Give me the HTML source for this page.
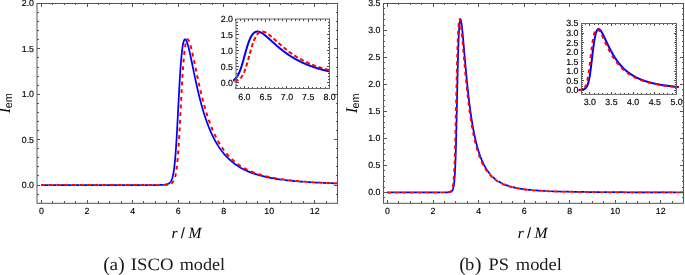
<!DOCTYPE html>
<html><head><meta charset="utf-8"><title>Emission profiles</title>
<style>html,body{margin:0;padding:0;background:#fff}svg{display:block}text{text-rendering:geometricPrecision}</style></head>
<body>
<svg width="685" height="275" viewBox="0 0 685 275">
<rect width="685" height="275" fill="#fff"/>
<clipPath id="c1"><rect x="37.0" y="3.5" width="300.5" height="199.8"/></clipPath>
<g clip-path="url(#c1)" fill="none" stroke-width="1.75" stroke-linejoin="round">
<path d="M41.04,185.05 L42.91,185.05 L44.77,185.05 L46.64,185.05 L48.50,185.05 L50.37,185.05 L52.23,185.05 L54.10,185.05 L55.96,185.05 L57.83,185.05 L59.69,185.05 L61.55,185.05 L63.42,185.05 L65.28,185.05 L67.15,185.05 L69.01,185.05 L70.88,185.05 L72.74,185.05 L74.61,185.05 L76.47,185.05 L78.34,185.05 L80.20,185.05 L82.06,185.05 L83.93,185.05 L85.79,185.05 L87.66,185.05 L89.52,185.05 L91.39,185.05 L93.25,185.05 L95.12,185.05 L96.98,185.05 L98.85,185.05 L100.71,185.05 L102.58,185.05 L104.44,185.05 L106.30,185.05 L108.17,185.05 L110.03,185.05 L111.90,185.05 L113.76,185.05 L115.63,185.05 L117.49,185.05 L119.36,185.05 L121.22,185.05 L123.09,185.05 L124.95,185.05 L126.81,185.05 L128.68,185.05 L130.54,185.05 L132.41,185.05 L134.27,185.05 L136.14,185.05 L138.00,185.05 L139.87,185.05 L141.73,185.05 L143.60,185.05 L145.46,185.05 L147.32,185.04 L149.19,185.04 L151.05,185.04 L152.92,185.03 L154.78,185.03 L156.65,185.01 L158.51,184.99 L160.38,184.96 L162.24,184.89 L163.09,184.84 L163.30,184.83 L163.51,184.81 L163.72,184.80 L163.93,184.78 L164.11,184.77 L164.14,184.76 L164.35,184.74 L164.56,184.72 L164.77,184.70 L164.98,184.67 L165.19,184.64 L165.40,184.61 L165.61,184.58 L165.82,184.55 L165.97,184.52 L166.03,184.51 L166.24,184.47 L166.45,184.42 L166.65,184.37 L166.86,184.32 L167.07,184.26 L167.28,184.19 L167.49,184.12 L167.70,184.05 L167.83,183.99 L167.91,183.96 L168.12,183.87 L168.33,183.77 L168.54,183.66 L168.75,183.53 L168.96,183.40 L169.17,183.25 L169.38,183.09 L169.59,182.91 L169.70,182.81 L169.80,182.71 L170.01,182.50 L170.22,182.26 L170.43,181.99 L170.64,181.70 L170.85,181.37 L171.06,181.01 L171.27,180.62 L171.48,180.18 L171.56,179.98 L171.69,179.69 L171.89,179.16 L172.10,178.56 L172.31,177.90 L172.52,177.18 L172.73,176.37 L172.94,175.49 L173.15,174.51 L173.36,173.43 L173.43,173.06 L173.57,172.24 L173.78,170.94 L173.99,169.51 L174.20,167.94 L174.41,166.24 L174.62,164.38 L174.83,162.36 L175.04,160.18 L175.25,157.83 L175.29,157.30 L175.46,155.30 L175.67,152.60 L175.88,149.72 L176.09,146.67 L176.30,143.45 L176.51,140.08 L176.72,136.55 L176.93,132.89 L177.13,129.11 L177.16,128.69 L177.34,125.23 L177.55,121.26 L177.76,117.23 L177.97,113.16 L178.18,109.07 L178.39,104.98 L178.60,100.92 L178.81,96.90 L179.02,92.95 L179.02,92.94 L179.23,89.09 L179.44,85.32 L179.65,81.67 L179.86,78.15 L180.07,74.77 L180.28,71.54 L180.49,68.46 L180.70,65.54 L180.89,63.06 L180.91,62.79 L181.12,60.21 L181.33,57.79 L181.54,55.54 L181.75,53.46 L181.96,51.54 L182.17,49.79 L182.37,48.19 L182.58,46.74 L182.75,45.69 L182.79,45.44 L183.00,44.28 L183.21,43.26 L183.42,42.37 L183.63,41.61 L183.84,40.97 L184.05,40.44 L184.26,40.02 L184.47,39.71 L184.62,39.55 L184.68,39.49 L184.89,39.36 L185.10,39.33 L185.31,39.38 L185.52,39.50 L185.73,39.70 L185.94,39.96 L186.15,40.29 L186.36,40.68 L186.48,40.94 L186.57,41.13 L186.78,41.63 L186.99,42.17 L187.20,42.77 L187.41,43.40 L187.61,44.07 L187.82,44.79 L188.03,45.53 L188.24,46.30 L188.35,46.69 L188.45,47.11 L188.66,47.93 L188.87,48.79 L189.08,49.66 L189.29,50.56 L189.50,51.47 L189.71,52.40 L189.92,53.34 L190.13,54.29 L190.21,54.66 L190.34,55.26 L190.55,56.24 L190.76,57.23 L190.97,58.22 L191.18,59.22 L191.39,60.23 L191.60,61.24 L191.81,62.25 L192.02,63.27 L192.07,63.55 L192.23,64.28 L192.44,65.30 L192.65,66.32 L192.85,67.34 L193.06,68.36 L193.27,69.38 L193.48,70.40 L193.69,71.41 L193.90,72.42 L193.94,72.59 L194.11,73.42 L194.32,74.43 L194.53,75.42 L194.74,76.42 L194.95,77.41 L195.16,78.39 L195.37,79.37 L195.58,80.34 L195.79,81.31 L195.80,81.37 L196.00,82.27 L196.21,83.22 L196.42,84.17 L196.63,85.11 L196.84,86.04 L197.05,86.97 L197.26,87.89 L197.47,88.80 L197.67,89.67 L197.68,89.70 L197.89,90.60 L198.09,91.49 L198.30,92.37 L198.51,93.25 L198.72,94.11 L198.93,94.97 L199.14,95.83 L199.35,96.67 L199.53,97.39 L199.56,97.51 L199.77,98.34 L199.98,99.16 L200.19,99.97 L200.40,100.77 L200.61,101.57 L200.82,102.36 L201.03,103.14 L201.24,103.92 L201.40,104.50 L201.45,104.69 L201.66,105.45 L201.87,106.20 L202.08,106.94 L202.29,107.68 L202.50,108.41 L202.71,109.13 L202.92,109.84 L203.13,110.55 L203.26,111.01 L203.33,111.25 L203.54,111.94 L203.75,112.63 L203.96,113.31 L204.17,113.98 L204.38,114.64 L204.59,115.30 L204.80,115.95 L205.01,116.59 L205.13,116.94 L205.22,117.23 L205.43,117.86 L205.64,118.48 L205.85,119.10 L206.06,119.71 L206.27,120.31 L206.48,120.91 L206.69,121.50 L206.90,122.08 L206.99,122.34 L207.11,122.66 L207.32,123.23 L207.53,123.80 L207.74,124.36 L207.95,124.91 L208.16,125.46 L208.37,126.00 L208.57,126.54 L208.78,127.07 L208.86,127.25 L208.99,127.60 L209.20,128.12 L209.41,128.63 L209.62,129.14 L209.83,129.64 L210.04,130.14 L210.25,130.63 L210.46,131.12 L210.67,131.60 L210.72,131.71 L210.88,132.08 L211.09,132.55 L211.30,133.01 L211.51,133.48 L211.72,133.93 L211.93,134.38 L212.14,134.83 L212.35,135.27 L212.56,135.71 L212.58,135.77 L212.77,136.14 L212.98,136.57 L213.19,137.00 L214.45,139.46 L216.31,142.82 L218.18,145.88 L220.04,148.67 L221.91,151.22 L223.77,153.56 L225.64,155.70 L227.50,157.66 L229.37,159.46 L231.23,161.11 L233.09,162.64 L234.96,164.04 L236.82,165.34 L238.69,166.54 L240.55,167.65 L242.42,168.68 L244.28,169.63 L246.15,170.52 L248.01,171.34 L249.88,172.11 L251.74,172.82 L253.60,173.48 L255.47,174.10 L257.33,174.68 L259.20,175.23 L261.06,175.73 L262.93,176.21 L264.79,176.65 L266.66,177.07 L268.52,177.46 L270.39,177.83 L272.25,178.18 L274.11,178.51 L275.98,178.81 L277.84,179.10 L279.71,179.38 L281.57,179.63 L283.44,179.88 L285.30,180.11 L287.17,180.33 L289.03,180.53 L290.90,180.73 L292.76,180.91 L294.63,181.09 L296.49,181.25 L298.35,181.41 L300.22,181.56 L302.08,181.70 L303.95,181.84 L305.81,181.97 L307.68,182.09 L309.54,182.20 L311.41,182.32 L313.27,182.42 L315.14,182.52 L317.00,182.62 L318.86,182.71 L320.73,182.80 L322.59,182.88 L324.46,182.96 L326.32,183.03 L328.19,183.11 L330.05,183.18 L331.92,183.24 L333.78,183.31 L335.65,183.37 L337.51,183.43" stroke="#0000ff"/>
<clipPath id="c1e"><rect x="37.0" y="3.5" width="127.46" height="199.8"/><rect x="280.59" y="3.5" width="56.91" height="199.8"/></clipPath>
<path d="M41.04,185.05 L42.91,185.05 L44.77,185.05 L46.64,185.05 L48.50,185.05 L50.37,185.05 L52.23,185.05 L54.10,185.05 L55.96,185.05 L57.83,185.05 L59.69,185.05 L61.55,185.05 L63.42,185.05 L65.28,185.05 L67.15,185.05 L69.01,185.05 L70.88,185.05 L72.74,185.05 L74.61,185.05 L76.47,185.05 L78.34,185.05 L80.20,185.05 L82.06,185.05 L83.93,185.05 L85.79,185.05 L87.66,185.05 L89.52,185.05 L91.39,185.05 L93.25,185.05 L95.12,185.05 L96.98,185.05 L98.85,185.05 L100.71,185.05 L102.58,185.05 L104.44,185.05 L106.30,185.05 L108.17,185.05 L110.03,185.05 L111.90,185.05 L113.76,185.05 L115.63,185.05 L117.49,185.05 L119.36,185.05 L121.22,185.05 L123.09,185.05 L124.95,185.05 L126.81,185.05 L128.68,185.05 L130.54,185.05 L132.41,185.05 L134.27,185.05 L136.14,185.05 L138.00,185.05 L139.87,185.05 L141.73,185.05 L143.60,185.05 L145.46,185.05 L147.32,185.05 L149.19,185.05 L151.05,185.04 L152.92,185.04 L154.78,185.04 L156.65,185.03 L158.51,185.02 L160.38,185.00 L162.24,184.97 L163.09,184.95 L163.30,184.94 L163.51,184.94 L163.72,184.93 L163.93,184.92 L164.11,184.92 L164.14,184.92 L164.35,184.91 L164.56,184.90 L164.77,184.89 L164.98,184.88 L165.19,184.87 L165.40,184.86 L165.61,184.84 L165.82,184.83 L165.97,184.82 L166.03,184.81 L166.24,184.80 L166.45,184.78 L166.65,184.76 L166.86,184.74 L167.07,184.72 L167.28,184.70 L167.49,184.67 L167.70,184.64 L167.83,184.62 L167.91,184.61 L168.12,184.58 L168.33,184.54 L168.54,184.51 L168.75,184.46 L168.96,184.42 L169.17,184.37 L169.38,184.31 L169.59,184.25 L169.70,184.22 L169.80,184.19 L170.01,184.12 L170.22,184.04 L170.43,183.96 L170.64,183.86 L170.85,183.76 L171.06,183.65 L171.27,183.53 L171.48,183.39 L171.56,183.33 L171.69,183.25 L171.89,183.08 L172.10,182.90 L172.31,182.70 L172.52,182.49 L172.73,182.24 L172.94,181.98 L173.15,181.68 L173.36,181.36 L173.43,181.25 L173.57,181.00 L173.78,180.60 L173.99,180.16 L174.20,179.67 L174.41,179.13 L174.62,178.53 L174.83,177.87 L175.04,177.14 L175.25,176.33 L175.29,176.15 L175.46,175.44 L175.67,174.46 L175.88,173.37 L176.09,172.18 L176.30,170.87 L176.51,169.43 L176.72,167.86 L176.93,166.15 L177.13,164.28 L177.16,164.07 L177.34,162.26 L177.55,160.07 L177.76,157.70 L177.97,155.17 L178.18,152.46 L178.39,149.57 L178.60,146.51 L178.81,143.29 L179.02,139.90 L179.02,139.89 L179.23,136.37 L179.44,132.71 L179.65,128.92 L179.86,125.03 L180.07,121.06 L180.28,117.03 L180.49,112.95 L180.70,108.86 L180.89,105.18 L180.91,104.78 L181.12,100.72 L181.33,96.71 L181.54,92.76 L181.75,88.90 L181.96,85.14 L182.17,81.49 L182.37,77.98 L182.58,74.61 L182.75,72.02 L182.79,71.38 L183.00,68.31 L183.21,65.40 L183.42,62.66 L183.63,60.08 L183.84,57.68 L184.05,55.44 L184.26,53.36 L184.47,51.45 L184.62,50.22 L184.68,49.70 L184.89,48.11 L185.10,46.67 L185.31,45.38 L185.52,44.22 L185.73,43.21 L185.94,42.33 L186.15,41.57 L186.36,40.94 L186.48,40.62 L186.57,40.41 L186.78,40.00 L186.99,39.69 L187.20,39.48 L187.41,39.36 L187.61,39.33 L187.82,39.38 L188.03,39.51 L188.24,39.71 L188.35,39.83 L188.45,39.98 L188.66,40.31 L188.87,40.70 L189.08,41.15 L189.29,41.65 L189.50,42.20 L189.71,42.79 L189.92,43.43 L190.13,44.10 L190.21,44.36 L190.34,44.80 L190.55,45.54 L190.76,46.31 L190.97,47.11 L191.18,47.93 L191.39,48.78 L191.60,49.65 L191.81,50.53 L192.02,51.44 L192.07,51.69 L192.23,52.36 L192.44,53.30 L192.65,54.25 L192.85,55.21 L193.06,56.18 L193.27,57.16 L193.48,58.14 L193.69,59.14 L193.90,60.13 L193.94,60.31 L194.11,61.14 L194.32,62.14 L194.53,63.15 L194.74,64.17 L194.95,65.18 L195.16,66.19 L195.37,67.20 L195.58,68.22 L195.79,69.23 L195.80,69.30 L196.00,70.24 L196.21,71.24 L196.42,72.25 L196.63,73.25 L196.84,74.24 L197.05,75.23 L197.26,76.22 L197.47,77.21 L197.67,78.15 L197.68,78.18 L197.89,79.16 L198.09,80.12 L198.30,81.08 L198.51,82.04 L198.72,82.99 L198.93,83.93 L199.14,84.87 L199.35,85.79 L199.53,86.59 L199.56,86.72 L199.77,87.63 L199.98,88.54 L200.19,89.44 L200.40,90.33 L200.61,91.22 L200.82,92.10 L201.03,92.97 L201.24,93.84 L201.40,94.48 L201.45,94.69 L201.66,95.54 L201.87,96.38 L202.08,97.22 L202.29,98.04 L202.50,98.86 L202.71,99.67 L202.92,100.47 L203.13,101.27 L203.26,101.78 L203.33,102.06 L203.54,102.84 L203.75,103.61 L203.96,104.37 L204.17,105.13 L204.38,105.88 L204.59,106.62 L204.80,107.36 L205.01,108.08 L205.13,108.48 L205.22,108.80 L205.43,109.52 L205.64,110.22 L205.85,110.92 L206.06,111.61 L206.27,112.30 L206.48,112.97 L206.69,113.64 L206.90,114.31 L206.99,114.60 L207.11,114.96 L207.32,115.61 L207.53,116.26 L207.74,116.89 L207.95,117.52 L208.16,118.14 L208.37,118.76 L208.57,119.37 L208.78,119.97 L208.86,120.18 L208.99,120.57 L209.20,121.16 L209.41,121.74 L209.62,122.32 L209.83,122.89 L210.04,123.46 L210.25,124.02 L210.46,124.57 L210.67,125.12 L210.72,125.25 L210.88,125.66 L211.09,126.20 L211.30,126.73 L211.51,127.26 L211.72,127.78 L211.93,128.29 L212.14,128.80 L212.35,129.30 L212.56,129.80 L212.58,129.86 L212.77,130.29 L212.98,130.78 L213.19,131.26 L214.45,134.06 L216.31,137.88 L218.18,141.36 L220.04,144.53 L221.91,147.42 L223.77,150.06 L225.64,152.50 L227.50,154.72 L229.37,156.77 L231.23,158.64 L233.09,160.36 L234.96,161.94 L236.82,163.40 L238.69,164.75 L240.55,165.99 L242.42,167.14 L244.28,168.21 L246.15,169.20 L248.01,170.11 L249.88,170.96 L251.74,171.76 L253.60,172.49 L255.47,173.18 L257.33,173.82 L259.20,174.42 L261.06,174.98 L262.93,175.50 L264.79,175.99 L266.66,176.45 L268.52,176.88 L270.39,177.28 L272.25,177.66 L274.11,178.02 L275.98,178.36 L277.84,178.67 L279.71,178.97 L281.57,179.25 L283.44,179.52 L285.30,179.77 L287.17,180.00 L289.03,180.23 L290.90,180.44 L292.76,180.64 L294.63,180.83 L296.49,181.01 L298.35,181.18 L300.22,181.34 L302.08,181.49 L303.95,181.64 L305.81,181.78 L307.68,181.91 L309.54,182.03 L311.41,182.15 L313.27,182.26 L315.14,182.37 L317.00,182.48 L318.86,182.57 L320.73,182.67 L322.59,182.76 L324.46,182.84 L326.32,182.92 L328.19,183.00 L330.05,183.07 L331.92,183.15 L333.78,183.21 L335.65,183.28 L337.51,183.34" clip-path="url(#c1e)" stroke="#fff" stroke-width="2.55" stroke-dasharray="3.86,3.81" stroke-dashoffset="0"/>
<path d="M41.04,185.05 L42.91,185.05 L44.77,185.05 L46.64,185.05 L48.50,185.05 L50.37,185.05 L52.23,185.05 L54.10,185.05 L55.96,185.05 L57.83,185.05 L59.69,185.05 L61.55,185.05 L63.42,185.05 L65.28,185.05 L67.15,185.05 L69.01,185.05 L70.88,185.05 L72.74,185.05 L74.61,185.05 L76.47,185.05 L78.34,185.05 L80.20,185.05 L82.06,185.05 L83.93,185.05 L85.79,185.05 L87.66,185.05 L89.52,185.05 L91.39,185.05 L93.25,185.05 L95.12,185.05 L96.98,185.05 L98.85,185.05 L100.71,185.05 L102.58,185.05 L104.44,185.05 L106.30,185.05 L108.17,185.05 L110.03,185.05 L111.90,185.05 L113.76,185.05 L115.63,185.05 L117.49,185.05 L119.36,185.05 L121.22,185.05 L123.09,185.05 L124.95,185.05 L126.81,185.05 L128.68,185.05 L130.54,185.05 L132.41,185.05 L134.27,185.05 L136.14,185.05 L138.00,185.05 L139.87,185.05 L141.73,185.05 L143.60,185.05 L145.46,185.05 L147.32,185.05 L149.19,185.05 L151.05,185.04 L152.92,185.04 L154.78,185.04 L156.65,185.03 L158.51,185.02 L160.38,185.00 L162.24,184.97 L163.09,184.95 L163.30,184.94 L163.51,184.94 L163.72,184.93 L163.93,184.92 L164.11,184.92 L164.14,184.92 L164.35,184.91 L164.56,184.90 L164.77,184.89 L164.98,184.88 L165.19,184.87 L165.40,184.86 L165.61,184.84 L165.82,184.83 L165.97,184.82 L166.03,184.81 L166.24,184.80 L166.45,184.78 L166.65,184.76 L166.86,184.74 L167.07,184.72 L167.28,184.70 L167.49,184.67 L167.70,184.64 L167.83,184.62 L167.91,184.61 L168.12,184.58 L168.33,184.54 L168.54,184.51 L168.75,184.46 L168.96,184.42 L169.17,184.37 L169.38,184.31 L169.59,184.25 L169.70,184.22 L169.80,184.19 L170.01,184.12 L170.22,184.04 L170.43,183.96 L170.64,183.86 L170.85,183.76 L171.06,183.65 L171.27,183.53 L171.48,183.39 L171.56,183.33 L171.69,183.25 L171.89,183.08 L172.10,182.90 L172.31,182.70 L172.52,182.49 L172.73,182.24 L172.94,181.98 L173.15,181.68 L173.36,181.36 L173.43,181.25 L173.57,181.00 L173.78,180.60 L173.99,180.16 L174.20,179.67 L174.41,179.13 L174.62,178.53 L174.83,177.87 L175.04,177.14 L175.25,176.33 L175.29,176.15 L175.46,175.44 L175.67,174.46 L175.88,173.37 L176.09,172.18 L176.30,170.87 L176.51,169.43 L176.72,167.86 L176.93,166.15 L177.13,164.28 L177.16,164.07 L177.34,162.26 L177.55,160.07 L177.76,157.70 L177.97,155.17 L178.18,152.46 L178.39,149.57 L178.60,146.51 L178.81,143.29 L179.02,139.90 L179.02,139.89 L179.23,136.37 L179.44,132.71 L179.65,128.92 L179.86,125.03 L180.07,121.06 L180.28,117.03 L180.49,112.95 L180.70,108.86 L180.89,105.18 L180.91,104.78 L181.12,100.72 L181.33,96.71 L181.54,92.76 L181.75,88.90 L181.96,85.14 L182.17,81.49 L182.37,77.98 L182.58,74.61 L182.75,72.02 L182.79,71.38 L183.00,68.31 L183.21,65.40 L183.42,62.66 L183.63,60.08 L183.84,57.68 L184.05,55.44 L184.26,53.36 L184.47,51.45 L184.62,50.22 L184.68,49.70 L184.89,48.11 L185.10,46.67 L185.31,45.38 L185.52,44.22 L185.73,43.21 L185.94,42.33 L186.15,41.57 L186.36,40.94 L186.48,40.62 L186.57,40.41 L186.78,40.00 L186.99,39.69 L187.20,39.48 L187.41,39.36 L187.61,39.33 L187.82,39.38 L188.03,39.51 L188.24,39.71 L188.35,39.83 L188.45,39.98 L188.66,40.31 L188.87,40.70 L189.08,41.15 L189.29,41.65 L189.50,42.20 L189.71,42.79 L189.92,43.43 L190.13,44.10 L190.21,44.36 L190.34,44.80 L190.55,45.54 L190.76,46.31 L190.97,47.11 L191.18,47.93 L191.39,48.78 L191.60,49.65 L191.81,50.53 L192.02,51.44 L192.07,51.69 L192.23,52.36 L192.44,53.30 L192.65,54.25 L192.85,55.21 L193.06,56.18 L193.27,57.16 L193.48,58.14 L193.69,59.14 L193.90,60.13 L193.94,60.31 L194.11,61.14 L194.32,62.14 L194.53,63.15 L194.74,64.17 L194.95,65.18 L195.16,66.19 L195.37,67.20 L195.58,68.22 L195.79,69.23 L195.80,69.30 L196.00,70.24 L196.21,71.24 L196.42,72.25 L196.63,73.25 L196.84,74.24 L197.05,75.23 L197.26,76.22 L197.47,77.21 L197.67,78.15 L197.68,78.18 L197.89,79.16 L198.09,80.12 L198.30,81.08 L198.51,82.04 L198.72,82.99 L198.93,83.93 L199.14,84.87 L199.35,85.79 L199.53,86.59 L199.56,86.72 L199.77,87.63 L199.98,88.54 L200.19,89.44 L200.40,90.33 L200.61,91.22 L200.82,92.10 L201.03,92.97 L201.24,93.84 L201.40,94.48 L201.45,94.69 L201.66,95.54 L201.87,96.38 L202.08,97.22 L202.29,98.04 L202.50,98.86 L202.71,99.67 L202.92,100.47 L203.13,101.27 L203.26,101.78 L203.33,102.06 L203.54,102.84 L203.75,103.61 L203.96,104.37 L204.17,105.13 L204.38,105.88 L204.59,106.62 L204.80,107.36 L205.01,108.08 L205.13,108.48 L205.22,108.80 L205.43,109.52 L205.64,110.22 L205.85,110.92 L206.06,111.61 L206.27,112.30 L206.48,112.97 L206.69,113.64 L206.90,114.31 L206.99,114.60 L207.11,114.96 L207.32,115.61 L207.53,116.26 L207.74,116.89 L207.95,117.52 L208.16,118.14 L208.37,118.76 L208.57,119.37 L208.78,119.97 L208.86,120.18 L208.99,120.57 L209.20,121.16 L209.41,121.74 L209.62,122.32 L209.83,122.89 L210.04,123.46 L210.25,124.02 L210.46,124.57 L210.67,125.12 L210.72,125.25 L210.88,125.66 L211.09,126.20 L211.30,126.73 L211.51,127.26 L211.72,127.78 L211.93,128.29 L212.14,128.80 L212.35,129.30 L212.56,129.80 L212.58,129.86 L212.77,130.29 L212.98,130.78 L213.19,131.26 L214.45,134.06 L216.31,137.88 L218.18,141.36 L220.04,144.53 L221.91,147.42 L223.77,150.06 L225.64,152.50 L227.50,154.72 L229.37,156.77 L231.23,158.64 L233.09,160.36 L234.96,161.94 L236.82,163.40 L238.69,164.75 L240.55,165.99 L242.42,167.14 L244.28,168.21 L246.15,169.20 L248.01,170.11 L249.88,170.96 L251.74,171.76 L253.60,172.49 L255.47,173.18 L257.33,173.82 L259.20,174.42 L261.06,174.98 L262.93,175.50 L264.79,175.99 L266.66,176.45 L268.52,176.88 L270.39,177.28 L272.25,177.66 L274.11,178.02 L275.98,178.36 L277.84,178.67 L279.71,178.97 L281.57,179.25 L283.44,179.52 L285.30,179.77 L287.17,180.00 L289.03,180.23 L290.90,180.44 L292.76,180.64 L294.63,180.83 L296.49,181.01 L298.35,181.18 L300.22,181.34 L302.08,181.49 L303.95,181.64 L305.81,181.78 L307.68,181.91 L309.54,182.03 L311.41,182.15 L313.27,182.26 L315.14,182.37 L317.00,182.48 L318.86,182.57 L320.73,182.67 L322.59,182.76 L324.46,182.84 L326.32,182.92 L328.19,183.00 L330.05,183.07 L331.92,183.15 L333.78,183.21 L335.65,183.28 L337.51,183.34" stroke="#ff0000" stroke-width="1.95" stroke-dasharray="3.86,3.81" stroke-dashoffset="0"/>
</g>
<path d="M41.50,203.3v-3.4M41.50,3.5v3.4M52.88,203.3v-1.9M52.88,3.5v1.9M64.27,203.3v-1.9M64.27,3.5v1.9M75.66,203.3v-1.9M75.66,3.5v1.9M87.04,203.3v-3.4M87.04,3.5v3.4M98.42,203.3v-1.9M98.42,3.5v1.9M109.81,203.3v-1.9M109.81,3.5v1.9M121.19,203.3v-1.9M121.19,3.5v1.9M132.58,203.3v-3.4M132.58,3.5v3.4M143.97,203.3v-1.9M143.97,3.5v1.9M155.35,203.3v-1.9M155.35,3.5v1.9M166.74,203.3v-1.9M166.74,3.5v1.9M178.12,203.3v-3.4M178.12,3.5v3.4M189.50,203.3v-1.9M189.50,3.5v1.9M200.89,203.3v-1.9M200.89,3.5v1.9M212.28,203.3v-1.9M212.28,3.5v1.9M223.66,203.3v-3.4M223.66,3.5v3.4M235.04,203.3v-1.9M235.04,3.5v1.9M246.43,203.3v-1.9M246.43,3.5v1.9M257.81,203.3v-1.9M257.81,3.5v1.9M269.20,203.3v-3.4M269.20,3.5v3.4M280.59,203.3v-1.9M280.59,3.5v1.9M291.97,203.3v-1.9M291.97,3.5v1.9M303.36,203.3v-1.9M303.36,3.5v1.9M314.74,203.3v-3.4M314.74,3.5v3.4M326.12,203.3v-1.9M326.12,3.5v1.9M337.51,203.3v-1.9M337.51,3.5v1.9M37.0,194.13h1.9M337.5,194.13h-1.9M37.0,185.05h3.4M337.5,185.05h-3.4M37.0,175.97h1.9M337.5,175.97h-1.9M37.0,166.89h1.9M337.5,166.89h-1.9M37.0,157.81h1.9M337.5,157.81h-1.9M37.0,148.73h1.9M337.5,148.73h-1.9M37.0,139.65h3.4M337.5,139.65h-3.4M37.0,130.57h1.9M337.5,130.57h-1.9M37.0,121.49h1.9M337.5,121.49h-1.9M37.0,112.41h1.9M337.5,112.41h-1.9M37.0,103.33h1.9M337.5,103.33h-1.9M37.0,94.25h3.4M337.5,94.25h-3.4M37.0,85.17h1.9M337.5,85.17h-1.9M37.0,76.09h1.9M337.5,76.09h-1.9M37.0,67.01h1.9M337.5,67.01h-1.9M37.0,57.93h1.9M337.5,57.93h-1.9M37.0,48.85h3.4M337.5,48.85h-3.4M37.0,39.77h1.9M337.5,39.77h-1.9M37.0,30.69h1.9M337.5,30.69h-1.9M37.0,21.61h1.9M337.5,21.61h-1.9M37.0,12.53h1.9M337.5,12.53h-1.9" stroke="#555" stroke-width="1" fill="none" shape-rendering="crispEdges"/>
<rect x="37.0" y="3.5" width="300.5" height="199.8" fill="none" stroke="#555" stroke-width="1"/>
<g font-family="Liberation Sans, Arial, sans-serif" font-size="8.8" fill="#000" stroke="#000" stroke-width="0.15">
<text x="41.50" y="213.5" text-anchor="middle">0</text>
<text x="87.04" y="213.5" text-anchor="middle">2</text>
<text x="132.58" y="213.5" text-anchor="middle">4</text>
<text x="178.12" y="213.5" text-anchor="middle">6</text>
<text x="223.66" y="213.5" text-anchor="middle">8</text>
<text x="269.20" y="213.5" text-anchor="middle">10</text>
<text x="314.74" y="213.5" text-anchor="middle">12</text>
<text x="34.0" y="187.90" text-anchor="end">0.0</text>
<text x="34.0" y="142.50" text-anchor="end">0.5</text>
<text x="34.0" y="97.10" text-anchor="end">1.0</text>
<text x="34.0" y="51.70" text-anchor="end">1.5</text>
<text x="34.0" y="6.30" text-anchor="end">2.0</text>
</g>
<clipPath id="c2"><rect x="383.5" y="3.5" width="300.0" height="199.8"/></clipPath>
<g clip-path="url(#c2)" fill="none" stroke-width="1.75" stroke-linejoin="round">
<path d="M387.04,192.40 L388.91,192.40 L390.77,192.40 L392.64,192.40 L394.50,192.40 L396.37,192.40 L398.23,192.40 L400.10,192.40 L401.96,192.40 L403.83,192.40 L405.69,192.40 L407.55,192.40 L409.42,192.40 L411.28,192.40 L413.15,192.40 L415.01,192.40 L416.88,192.40 L418.74,192.40 L420.61,192.40 L422.47,192.40 L424.34,192.40 L426.20,192.40 L428.06,192.40 L429.93,192.40 L431.79,192.40 L433.66,192.40 L435.52,192.40 L437.39,192.40 L439.25,192.40 L441.12,192.39 L442.60,192.39 L442.81,192.39 L442.98,192.39 L443.02,192.39 L443.23,192.39 L443.44,192.39 L443.65,192.39 L443.86,192.38 L444.07,192.38 L444.28,192.38 L444.49,192.38 L444.70,192.38 L444.85,192.38 L444.91,192.38 L445.12,192.37 L445.33,192.37 L445.54,192.37 L445.75,192.36 L445.96,192.36 L446.17,192.36 L446.38,192.35 L446.59,192.35 L446.71,192.34 L446.80,192.34 L447.00,192.34 L447.21,192.33 L447.42,192.32 L447.63,192.31 L447.84,192.30 L448.05,192.29 L448.26,192.28 L448.47,192.26 L448.58,192.25 L448.68,192.24 L448.89,192.22 L449.10,192.20 L449.31,192.17 L449.52,192.14 L449.73,192.10 L449.94,192.06 L450.15,192.01 L450.36,191.96 L450.44,191.93 L450.57,191.89 L450.78,191.81 L450.99,191.71 L451.20,191.60 L451.41,191.47 L451.62,191.31 L451.83,191.13 L452.04,190.90 L452.24,190.63 L452.30,190.54 L452.45,190.30 L452.66,189.90 L452.87,189.41 L453.08,188.82 L453.29,188.10 L453.50,187.22 L453.71,186.14 L453.92,184.82 L454.13,183.20 L454.17,182.88 L454.34,181.23 L454.55,178.83 L454.76,175.92 L454.97,172.42 L455.18,168.24 L455.39,163.32 L455.60,157.60 L455.81,151.04 L456.02,143.66 L456.03,143.08 L456.23,135.52 L456.44,126.73 L456.65,117.43 L456.86,107.82 L457.07,98.10 L457.28,88.48 L457.48,79.15 L457.69,70.29 L457.90,62.25 L457.90,62.02 L458.11,54.45 L458.32,47.64 L458.53,41.63 L458.74,36.41 L458.95,31.97 L459.16,28.28 L459.37,25.29 L459.58,22.97 L459.76,21.44 L459.79,21.25 L460.00,20.07 L460.21,19.40 L460.42,19.17 L460.63,19.34 L460.84,19.86 L461.05,20.69 L461.26,21.79 L461.47,23.13 L461.63,24.28 L461.68,24.66 L461.89,26.38 L462.10,28.24 L462.31,30.23 L462.52,32.32 L462.72,34.50 L462.93,36.75 L463.14,39.06 L463.35,41.41 L463.49,42.98 L463.56,43.79 L463.77,46.20 L463.98,48.62 L464.19,51.04 L464.40,53.47 L464.61,55.88 L464.82,58.29 L465.03,60.68 L465.24,63.05 L465.36,64.35 L465.45,65.39 L465.66,67.71 L465.87,70.01 L466.08,72.27 L466.29,74.50 L466.50,76.70 L466.71,78.86 L466.92,80.99 L467.13,83.08 L467.22,84.01 L467.34,85.14 L467.55,87.16 L467.76,89.14 L467.96,91.08 L468.17,92.99 L468.38,94.87 L468.59,96.70 L468.80,98.50 L469.01,100.26 L469.09,100.87 L469.22,101.99 L469.43,103.68 L469.64,105.34 L469.85,106.97 L470.06,108.56 L470.27,110.11 L470.48,111.64 L470.69,113.13 L470.90,114.59 L470.95,114.94 L471.11,116.02 L471.32,117.42 L471.53,118.79 L471.74,120.13 L471.95,121.45 L472.16,122.73 L472.37,123.99 L472.58,125.22 L472.79,126.42 L472.81,126.59 L473.00,127.60 L473.20,128.76 L473.41,129.89 L473.62,130.99 L473.83,132.07 L474.04,133.13 L474.25,134.17 L474.46,135.18 L474.67,136.18 L474.68,136.21 L474.88,137.15 L475.09,138.10 L475.30,139.04 L475.51,139.95 L475.72,140.84 L475.93,141.72 L476.14,142.58 L476.35,143.42 L476.54,144.18 L476.56,144.24 L476.77,145.05 L476.98,145.83 L477.19,146.61 L477.40,147.37 L477.61,148.11 L477.82,148.83 L478.03,149.55 L478.24,150.24 L478.41,150.81 L478.44,150.93 L478.65,151.60 L478.86,152.26 L479.07,152.90 L479.28,153.53 L479.49,154.15 L479.70,154.76 L479.91,155.35 L480.12,155.94 L480.27,156.35 L480.33,156.51 L480.54,157.07 L480.75,157.62 L480.96,158.16 L481.17,158.69 L481.38,159.21 L481.59,159.72 L481.80,160.22 L482.01,160.71 L482.14,161.00 L482.22,161.19 L482.43,161.66 L482.64,162.12 L482.85,162.57 L483.06,163.02 L483.27,163.46 L483.48,163.89 L483.68,164.31 L483.89,164.72 L484.00,164.93 L484.10,165.13 L484.31,165.53 L484.52,165.92 L484.73,166.30 L484.94,166.68 L485.15,167.05 L485.36,167.42 L485.57,167.78 L485.78,168.13 L485.87,168.27 L485.99,168.47 L486.20,168.81 L486.41,169.14 L486.62,169.47 L486.83,169.79 L487.04,170.11 L487.25,170.42 L487.46,170.72 L487.67,171.02 L487.73,171.11 L487.88,171.32 L488.09,171.61 L488.30,171.89 L488.51,172.17 L488.72,172.45 L488.92,172.72 L489.13,172.98 L489.34,173.25 L489.55,173.50 L489.60,173.55 L489.76,173.76 L489.97,174.00 L490.18,174.25 L490.39,174.49 L490.60,174.73 L490.81,174.96 L491.02,175.19 L491.23,175.41 L491.44,175.63 L491.46,175.66 L491.65,175.85 L491.86,176.07 L492.07,176.28 L492.28,176.49 L492.49,176.69 L492.70,176.89 L493.32,177.47 L495.19,179.05 L497.05,180.43 L498.92,181.63 L500.78,182.69 L502.65,183.62 L504.51,184.44 L506.38,185.17 L508.24,185.82 L510.11,186.40 L511.97,186.92 L513.83,187.38 L515.70,187.80 L517.56,188.17 L519.43,188.51 L521.29,188.81 L523.16,189.09 L525.02,189.34 L526.89,189.57 L528.75,189.77 L530.62,189.96 L532.48,190.14 L534.35,190.29 L536.21,190.44 L538.07,190.57 L539.94,190.69 L541.80,190.80 L543.67,190.91 L545.53,191.00 L547.40,191.09 L549.26,191.17 L551.13,191.25 L552.99,191.32 L554.86,191.38 L556.72,191.44 L558.58,191.50 L560.45,191.55 L562.31,191.60 L564.18,191.64 L566.04,191.69 L567.91,191.72 L569.77,191.76 L571.64,191.80 L573.50,191.83 L575.37,191.86 L577.23,191.89 L579.09,191.91 L580.96,191.94 L582.82,191.96 L584.69,191.98 L586.55,192.00 L588.42,192.02 L590.28,192.04 L592.15,192.06 L594.01,192.07 L595.88,192.09 L597.74,192.10 L599.60,192.12 L601.47,192.13 L603.33,192.14 L605.20,192.15 L607.06,192.17 L608.93,192.18 L610.79,192.19 L612.66,192.19 L614.52,192.20 L616.39,192.21 L618.25,192.22 L620.11,192.23 L621.98,192.23 L623.84,192.24 L625.71,192.25 L627.57,192.25 L629.44,192.26 L631.30,192.27 L633.17,192.27 L635.03,192.28 L636.90,192.28 L638.76,192.29 L640.63,192.29 L642.49,192.29 L644.35,192.30 L646.22,192.30 L648.08,192.31 L649.95,192.31 L651.81,192.31 L653.68,192.32 L655.54,192.32 L657.41,192.32 L659.27,192.32 L661.14,192.33 L663.00,192.33 L664.86,192.33 L666.73,192.33 L668.59,192.34 L670.46,192.34 L672.32,192.34 L674.19,192.34 L676.05,192.34 L677.92,192.35 L679.78,192.35 L681.65,192.35 L683.51,192.35" stroke="#0000ff"/>
<clipPath id="c2e"><rect x="383.5" y="3.5" width="63.20" height="199.8"/><rect x="487.69" y="3.5" width="195.81" height="199.8"/></clipPath>
<path d="M387.04,192.40 L388.91,192.40 L390.77,192.40 L392.64,192.40 L394.50,192.40 L396.37,192.40 L398.23,192.40 L400.10,192.40 L401.96,192.40 L403.83,192.40 L405.69,192.40 L407.55,192.40 L409.42,192.40 L411.28,192.40 L413.15,192.40 L415.01,192.40 L416.88,192.40 L418.74,192.40 L420.61,192.40 L422.47,192.40 L424.34,192.40 L426.20,192.40 L428.06,192.40 L429.93,192.40 L431.79,192.40 L433.66,192.40 L435.52,192.40 L437.39,192.40 L439.25,192.40 L441.12,192.39 L442.60,192.39 L442.81,192.39 L442.98,192.38 L443.02,192.38 L443.23,192.38 L443.44,192.38 L443.65,192.38 L443.86,192.38 L444.07,192.38 L444.28,192.37 L444.49,192.37 L444.70,192.37 L444.85,192.37 L444.91,192.37 L445.12,192.36 L445.33,192.36 L445.54,192.35 L445.75,192.35 L445.96,192.34 L446.17,192.34 L446.38,192.33 L446.59,192.32 L446.71,192.32 L446.80,192.31 L447.00,192.30 L447.21,192.29 L447.42,192.28 L447.63,192.26 L447.84,192.25 L448.05,192.23 L448.26,192.20 L448.47,192.18 L448.58,192.16 L448.68,192.15 L448.89,192.11 L449.10,192.07 L449.31,192.02 L449.52,191.97 L449.73,191.90 L449.94,191.83 L450.15,191.73 L450.36,191.63 L450.44,191.58 L450.57,191.50 L450.78,191.35 L450.99,191.17 L451.20,190.95 L451.41,190.68 L451.62,190.37 L451.83,189.98 L452.04,189.52 L452.24,188.95 L452.30,188.77 L452.45,188.26 L452.66,187.41 L452.87,186.37 L453.08,185.10 L453.29,183.55 L453.50,181.65 L453.71,179.34 L453.92,176.54 L454.13,173.16 L454.17,172.49 L454.34,169.12 L454.55,164.36 L454.76,158.79 L454.97,152.40 L455.18,145.18 L455.39,137.19 L455.60,128.51 L455.81,119.30 L456.02,109.74 L456.03,109.01 L456.23,100.02 L456.44,90.36 L456.65,80.96 L456.86,72.00 L457.07,63.60 L457.28,55.89 L457.48,48.93 L457.69,42.75 L457.90,37.52 L457.90,37.38 L458.11,32.79 L458.32,28.95 L458.53,25.83 L458.74,23.38 L458.95,21.54 L459.16,20.26 L459.37,19.50 L459.58,19.18 L459.76,19.24 L459.79,19.28 L460.00,19.73 L460.21,20.50 L460.42,21.55 L460.63,22.84 L460.84,24.35 L461.05,26.03 L461.26,27.86 L461.47,29.83 L461.63,31.40 L461.68,31.90 L461.89,34.07 L462.10,36.30 L462.31,38.60 L462.52,40.94 L462.72,43.32 L462.93,45.72 L463.14,48.14 L463.35,50.56 L463.49,52.16 L463.56,52.99 L463.77,55.41 L463.98,57.81 L464.19,60.21 L464.40,62.58 L464.61,64.93 L464.82,67.26 L465.03,69.56 L465.24,71.82 L465.36,73.07 L465.45,74.06 L465.66,76.26 L465.87,78.43 L466.08,80.57 L466.29,82.67 L466.50,84.73 L466.71,86.76 L466.92,88.75 L467.13,90.70 L467.22,91.57 L467.34,92.62 L467.55,94.50 L467.76,96.34 L467.96,98.15 L468.17,99.92 L468.38,101.65 L468.59,103.35 L468.80,105.02 L469.01,106.65 L469.09,107.20 L469.22,108.25 L469.43,109.81 L469.64,111.34 L469.85,112.84 L470.06,114.31 L470.27,115.74 L470.48,117.15 L470.69,118.52 L470.90,119.87 L470.95,120.19 L471.11,121.19 L471.32,122.48 L471.53,123.74 L471.74,124.98 L471.95,126.19 L472.16,127.37 L472.37,128.53 L472.58,129.66 L472.79,130.77 L472.81,130.93 L473.00,131.86 L473.20,132.93 L473.41,133.97 L473.62,134.99 L473.83,135.98 L474.04,136.96 L474.25,137.92 L474.46,138.85 L474.67,139.77 L474.68,139.80 L474.88,140.67 L475.09,141.55 L475.30,142.41 L475.51,143.25 L475.72,144.08 L475.93,144.89 L476.14,145.68 L476.35,146.46 L476.54,147.16 L476.56,147.22 L476.77,147.96 L476.98,148.69 L477.19,149.41 L477.40,150.11 L477.61,150.79 L477.82,151.47 L478.03,152.13 L478.24,152.77 L478.41,153.30 L478.44,153.41 L478.65,154.03 L478.86,154.64 L479.07,155.24 L479.28,155.82 L479.49,156.40 L479.70,156.96 L479.91,157.51 L480.12,158.05 L480.27,158.44 L480.33,158.58 L480.54,159.10 L480.75,159.62 L480.96,160.12 L481.17,160.61 L481.38,161.09 L481.59,161.57 L481.80,162.03 L482.01,162.49 L482.14,162.76 L482.22,162.93 L482.43,163.37 L482.64,163.80 L482.85,164.23 L483.06,164.64 L483.27,165.05 L483.48,165.45 L483.68,165.84 L483.89,166.23 L484.00,166.42 L484.10,166.61 L484.31,166.98 L484.52,167.35 L484.73,167.71 L484.94,168.06 L485.15,168.40 L485.36,168.74 L485.57,169.08 L485.78,169.41 L485.87,169.54 L485.99,169.73 L486.20,170.05 L486.41,170.36 L486.62,170.66 L486.83,170.97 L487.04,171.26 L487.25,171.55 L487.46,171.84 L487.67,172.12 L487.73,172.20 L487.88,172.39 L488.09,172.67 L488.30,172.93 L488.51,173.19 L488.72,173.45 L488.92,173.71 L489.13,173.96 L489.34,174.20 L489.55,174.44 L489.60,174.49 L489.76,174.68 L489.97,174.91 L490.18,175.14 L490.39,175.37 L490.60,175.59 L490.81,175.81 L491.02,176.02 L491.23,176.24 L491.44,176.44 L491.46,176.46 L491.65,176.65 L491.86,176.85 L492.07,177.05 L492.28,177.24 L492.49,177.44 L492.70,177.63 L493.32,178.17 L495.19,179.66 L497.05,180.96 L498.92,182.10 L500.78,183.10 L502.65,183.98 L504.51,184.77 L506.38,185.46 L508.24,186.08 L510.11,186.63 L511.97,187.12 L513.83,187.56 L515.70,187.96 L517.56,188.32 L519.43,188.64 L521.29,188.93 L523.16,189.20 L525.02,189.44 L526.89,189.66 L528.75,189.86 L530.62,190.04 L532.48,190.20 L534.35,190.36 L536.21,190.50 L538.07,190.62 L539.94,190.74 L541.80,190.85 L543.67,190.95 L545.53,191.04 L547.40,191.13 L549.26,191.21 L551.13,191.28 L552.99,191.35 L554.86,191.41 L556.72,191.47 L558.58,191.52 L560.45,191.57 L562.31,191.62 L564.18,191.66 L566.04,191.70 L567.91,191.74 L569.77,191.78 L571.64,191.81 L573.50,191.84 L575.37,191.87 L577.23,191.90 L579.09,191.92 L580.96,191.95 L582.82,191.97 L584.69,191.99 L586.55,192.01 L588.42,192.03 L590.28,192.05 L592.15,192.06 L594.01,192.08 L595.88,192.10 L597.74,192.11 L599.60,192.12 L601.47,192.14 L603.33,192.15 L605.20,192.16 L607.06,192.17 L608.93,192.18 L610.79,192.19 L612.66,192.20 L614.52,192.21 L616.39,192.22 L618.25,192.22 L620.11,192.23 L621.98,192.24 L623.84,192.24 L625.71,192.25 L627.57,192.26 L629.44,192.26 L631.30,192.27 L633.17,192.27 L635.03,192.28 L636.90,192.28 L638.76,192.29 L640.63,192.29 L642.49,192.30 L644.35,192.30 L646.22,192.30 L648.08,192.31 L649.95,192.31 L651.81,192.31 L653.68,192.32 L655.54,192.32 L657.41,192.32 L659.27,192.33 L661.14,192.33 L663.00,192.33 L664.86,192.33 L666.73,192.34 L668.59,192.34 L670.46,192.34 L672.32,192.34 L674.19,192.34 L676.05,192.35 L677.92,192.35 L679.78,192.35 L681.65,192.35 L683.51,192.35" clip-path="url(#c2e)" stroke="#fff" stroke-width="2.55" stroke-dasharray="3.84,3.79" stroke-dashoffset="0"/>
<path d="M387.04,192.40 L388.91,192.40 L390.77,192.40 L392.64,192.40 L394.50,192.40 L396.37,192.40 L398.23,192.40 L400.10,192.40 L401.96,192.40 L403.83,192.40 L405.69,192.40 L407.55,192.40 L409.42,192.40 L411.28,192.40 L413.15,192.40 L415.01,192.40 L416.88,192.40 L418.74,192.40 L420.61,192.40 L422.47,192.40 L424.34,192.40 L426.20,192.40 L428.06,192.40 L429.93,192.40 L431.79,192.40 L433.66,192.40 L435.52,192.40 L437.39,192.40 L439.25,192.40 L441.12,192.39 L442.60,192.39 L442.81,192.39 L442.98,192.38 L443.02,192.38 L443.23,192.38 L443.44,192.38 L443.65,192.38 L443.86,192.38 L444.07,192.38 L444.28,192.37 L444.49,192.37 L444.70,192.37 L444.85,192.37 L444.91,192.37 L445.12,192.36 L445.33,192.36 L445.54,192.35 L445.75,192.35 L445.96,192.34 L446.17,192.34 L446.38,192.33 L446.59,192.32 L446.71,192.32 L446.80,192.31 L447.00,192.30 L447.21,192.29 L447.42,192.28 L447.63,192.26 L447.84,192.25 L448.05,192.23 L448.26,192.20 L448.47,192.18 L448.58,192.16 L448.68,192.15 L448.89,192.11 L449.10,192.07 L449.31,192.02 L449.52,191.97 L449.73,191.90 L449.94,191.83 L450.15,191.73 L450.36,191.63 L450.44,191.58 L450.57,191.50 L450.78,191.35 L450.99,191.17 L451.20,190.95 L451.41,190.68 L451.62,190.37 L451.83,189.98 L452.04,189.52 L452.24,188.95 L452.30,188.77 L452.45,188.26 L452.66,187.41 L452.87,186.37 L453.08,185.10 L453.29,183.55 L453.50,181.65 L453.71,179.34 L453.92,176.54 L454.13,173.16 L454.17,172.49 L454.34,169.12 L454.55,164.36 L454.76,158.79 L454.97,152.40 L455.18,145.18 L455.39,137.19 L455.60,128.51 L455.81,119.30 L456.02,109.74 L456.03,109.01 L456.23,100.02 L456.44,90.36 L456.65,80.96 L456.86,72.00 L457.07,63.60 L457.28,55.89 L457.48,48.93 L457.69,42.75 L457.90,37.52 L457.90,37.38 L458.11,32.79 L458.32,28.95 L458.53,25.83 L458.74,23.38 L458.95,21.54 L459.16,20.26 L459.37,19.50 L459.58,19.18 L459.76,19.24 L459.79,19.28 L460.00,19.73 L460.21,20.50 L460.42,21.55 L460.63,22.84 L460.84,24.35 L461.05,26.03 L461.26,27.86 L461.47,29.83 L461.63,31.40 L461.68,31.90 L461.89,34.07 L462.10,36.30 L462.31,38.60 L462.52,40.94 L462.72,43.32 L462.93,45.72 L463.14,48.14 L463.35,50.56 L463.49,52.16 L463.56,52.99 L463.77,55.41 L463.98,57.81 L464.19,60.21 L464.40,62.58 L464.61,64.93 L464.82,67.26 L465.03,69.56 L465.24,71.82 L465.36,73.07 L465.45,74.06 L465.66,76.26 L465.87,78.43 L466.08,80.57 L466.29,82.67 L466.50,84.73 L466.71,86.76 L466.92,88.75 L467.13,90.70 L467.22,91.57 L467.34,92.62 L467.55,94.50 L467.76,96.34 L467.96,98.15 L468.17,99.92 L468.38,101.65 L468.59,103.35 L468.80,105.02 L469.01,106.65 L469.09,107.20 L469.22,108.25 L469.43,109.81 L469.64,111.34 L469.85,112.84 L470.06,114.31 L470.27,115.74 L470.48,117.15 L470.69,118.52 L470.90,119.87 L470.95,120.19 L471.11,121.19 L471.32,122.48 L471.53,123.74 L471.74,124.98 L471.95,126.19 L472.16,127.37 L472.37,128.53 L472.58,129.66 L472.79,130.77 L472.81,130.93 L473.00,131.86 L473.20,132.93 L473.41,133.97 L473.62,134.99 L473.83,135.98 L474.04,136.96 L474.25,137.92 L474.46,138.85 L474.67,139.77 L474.68,139.80 L474.88,140.67 L475.09,141.55 L475.30,142.41 L475.51,143.25 L475.72,144.08 L475.93,144.89 L476.14,145.68 L476.35,146.46 L476.54,147.16 L476.56,147.22 L476.77,147.96 L476.98,148.69 L477.19,149.41 L477.40,150.11 L477.61,150.79 L477.82,151.47 L478.03,152.13 L478.24,152.77 L478.41,153.30 L478.44,153.41 L478.65,154.03 L478.86,154.64 L479.07,155.24 L479.28,155.82 L479.49,156.40 L479.70,156.96 L479.91,157.51 L480.12,158.05 L480.27,158.44 L480.33,158.58 L480.54,159.10 L480.75,159.62 L480.96,160.12 L481.17,160.61 L481.38,161.09 L481.59,161.57 L481.80,162.03 L482.01,162.49 L482.14,162.76 L482.22,162.93 L482.43,163.37 L482.64,163.80 L482.85,164.23 L483.06,164.64 L483.27,165.05 L483.48,165.45 L483.68,165.84 L483.89,166.23 L484.00,166.42 L484.10,166.61 L484.31,166.98 L484.52,167.35 L484.73,167.71 L484.94,168.06 L485.15,168.40 L485.36,168.74 L485.57,169.08 L485.78,169.41 L485.87,169.54 L485.99,169.73 L486.20,170.05 L486.41,170.36 L486.62,170.66 L486.83,170.97 L487.04,171.26 L487.25,171.55 L487.46,171.84 L487.67,172.12 L487.73,172.20 L487.88,172.39 L488.09,172.67 L488.30,172.93 L488.51,173.19 L488.72,173.45 L488.92,173.71 L489.13,173.96 L489.34,174.20 L489.55,174.44 L489.60,174.49 L489.76,174.68 L489.97,174.91 L490.18,175.14 L490.39,175.37 L490.60,175.59 L490.81,175.81 L491.02,176.02 L491.23,176.24 L491.44,176.44 L491.46,176.46 L491.65,176.65 L491.86,176.85 L492.07,177.05 L492.28,177.24 L492.49,177.44 L492.70,177.63 L493.32,178.17 L495.19,179.66 L497.05,180.96 L498.92,182.10 L500.78,183.10 L502.65,183.98 L504.51,184.77 L506.38,185.46 L508.24,186.08 L510.11,186.63 L511.97,187.12 L513.83,187.56 L515.70,187.96 L517.56,188.32 L519.43,188.64 L521.29,188.93 L523.16,189.20 L525.02,189.44 L526.89,189.66 L528.75,189.86 L530.62,190.04 L532.48,190.20 L534.35,190.36 L536.21,190.50 L538.07,190.62 L539.94,190.74 L541.80,190.85 L543.67,190.95 L545.53,191.04 L547.40,191.13 L549.26,191.21 L551.13,191.28 L552.99,191.35 L554.86,191.41 L556.72,191.47 L558.58,191.52 L560.45,191.57 L562.31,191.62 L564.18,191.66 L566.04,191.70 L567.91,191.74 L569.77,191.78 L571.64,191.81 L573.50,191.84 L575.37,191.87 L577.23,191.90 L579.09,191.92 L580.96,191.95 L582.82,191.97 L584.69,191.99 L586.55,192.01 L588.42,192.03 L590.28,192.05 L592.15,192.06 L594.01,192.08 L595.88,192.10 L597.74,192.11 L599.60,192.12 L601.47,192.14 L603.33,192.15 L605.20,192.16 L607.06,192.17 L608.93,192.18 L610.79,192.19 L612.66,192.20 L614.52,192.21 L616.39,192.22 L618.25,192.22 L620.11,192.23 L621.98,192.24 L623.84,192.24 L625.71,192.25 L627.57,192.26 L629.44,192.26 L631.30,192.27 L633.17,192.27 L635.03,192.28 L636.90,192.28 L638.76,192.29 L640.63,192.29 L642.49,192.30 L644.35,192.30 L646.22,192.30 L648.08,192.31 L649.95,192.31 L651.81,192.31 L653.68,192.32 L655.54,192.32 L657.41,192.32 L659.27,192.33 L661.14,192.33 L663.00,192.33 L664.86,192.33 L666.73,192.34 L668.59,192.34 L670.46,192.34 L672.32,192.34 L674.19,192.34 L676.05,192.35 L677.92,192.35 L679.78,192.35 L681.65,192.35 L683.51,192.35" stroke="#ff0000" stroke-width="1.95" stroke-dasharray="3.84,3.79" stroke-dashoffset="0"/>
</g>
<path d="M387.50,203.3v-3.4M387.50,3.5v3.4M398.88,203.3v-1.9M398.88,3.5v1.9M410.27,203.3v-1.9M410.27,3.5v1.9M421.65,203.3v-1.9M421.65,3.5v1.9M433.04,203.3v-3.4M433.04,3.5v3.4M444.43,203.3v-1.9M444.43,3.5v1.9M455.81,203.3v-1.9M455.81,3.5v1.9M467.19,203.3v-1.9M467.19,3.5v1.9M478.58,203.3v-3.4M478.58,3.5v3.4M489.97,203.3v-1.9M489.97,3.5v1.9M501.35,203.3v-1.9M501.35,3.5v1.9M512.74,203.3v-1.9M512.74,3.5v1.9M524.12,203.3v-3.4M524.12,3.5v3.4M535.50,203.3v-1.9M535.50,3.5v1.9M546.89,203.3v-1.9M546.89,3.5v1.9M558.27,203.3v-1.9M558.27,3.5v1.9M569.66,203.3v-3.4M569.66,3.5v3.4M581.04,203.3v-1.9M581.04,3.5v1.9M592.43,203.3v-1.9M592.43,3.5v1.9M603.82,203.3v-1.9M603.82,3.5v1.9M615.20,203.3v-3.4M615.20,3.5v3.4M626.59,203.3v-1.9M626.59,3.5v1.9M637.97,203.3v-1.9M637.97,3.5v1.9M649.36,203.3v-1.9M649.36,3.5v1.9M660.74,203.3v-3.4M660.74,3.5v3.4M672.12,203.3v-1.9M672.12,3.5v1.9M683.51,203.3v-1.9M683.51,3.5v1.9M383.5,197.80h1.9M683.5,197.80h-1.9M383.5,192.40h3.4M683.5,192.40h-3.4M383.5,187.00h1.9M683.5,187.00h-1.9M383.5,181.61h1.9M683.5,181.61h-1.9M383.5,176.21h1.9M683.5,176.21h-1.9M383.5,170.81h1.9M683.5,170.81h-1.9M383.5,165.41h3.4M683.5,165.41h-3.4M383.5,160.02h1.9M683.5,160.02h-1.9M383.5,154.62h1.9M683.5,154.62h-1.9M383.5,149.22h1.9M683.5,149.22h-1.9M383.5,143.83h1.9M683.5,143.83h-1.9M383.5,138.43h3.4M683.5,138.43h-3.4M383.5,133.03h1.9M683.5,133.03h-1.9M383.5,127.64h1.9M683.5,127.64h-1.9M383.5,122.24h1.9M683.5,122.24h-1.9M383.5,116.84h1.9M683.5,116.84h-1.9M383.5,111.45h3.4M683.5,111.45h-3.4M383.5,106.05h1.9M683.5,106.05h-1.9M383.5,100.65h1.9M683.5,100.65h-1.9M383.5,95.25h1.9M683.5,95.25h-1.9M383.5,89.86h1.9M683.5,89.86h-1.9M383.5,84.46h3.4M683.5,84.46h-3.4M383.5,79.06h1.9M683.5,79.06h-1.9M383.5,73.67h1.9M683.5,73.67h-1.9M383.5,68.27h1.9M683.5,68.27h-1.9M383.5,62.87h1.9M683.5,62.87h-1.9M383.5,57.47h3.4M683.5,57.47h-3.4M383.5,52.08h1.9M683.5,52.08h-1.9M383.5,46.68h1.9M683.5,46.68h-1.9M383.5,41.28h1.9M683.5,41.28h-1.9M383.5,35.89h1.9M683.5,35.89h-1.9M383.5,30.49h3.4M683.5,30.49h-3.4M383.5,25.09h1.9M683.5,25.09h-1.9M383.5,19.70h1.9M683.5,19.70h-1.9M383.5,14.30h1.9M683.5,14.30h-1.9M383.5,8.90h1.9M683.5,8.90h-1.9M383.5,3.51h3.4M683.5,3.51h-3.4" stroke="#555" stroke-width="1" fill="none" shape-rendering="crispEdges"/>
<rect x="383.5" y="3.5" width="300.0" height="199.8" fill="none" stroke="#555" stroke-width="1"/>
<g font-family="Liberation Sans, Arial, sans-serif" font-size="8.8" fill="#000" stroke="#000" stroke-width="0.15">
<text x="387.50" y="213.5" text-anchor="middle">0</text>
<text x="433.04" y="213.5" text-anchor="middle">2</text>
<text x="478.58" y="213.5" text-anchor="middle">4</text>
<text x="524.12" y="213.5" text-anchor="middle">6</text>
<text x="569.66" y="213.5" text-anchor="middle">8</text>
<text x="615.20" y="213.5" text-anchor="middle">10</text>
<text x="660.74" y="213.5" text-anchor="middle">12</text>
<text x="380.4" y="195.25" text-anchor="end">0.0</text>
<text x="380.4" y="168.27" text-anchor="end">0.5</text>
<text x="380.4" y="141.28" text-anchor="end">1.0</text>
<text x="380.4" y="114.30" text-anchor="end">1.5</text>
<text x="380.4" y="87.31" text-anchor="end">2.0</text>
<text x="380.4" y="60.32" text-anchor="end">2.5</text>
<text x="380.4" y="33.34" text-anchor="end">3.0</text>
<text x="380.4" y="6.36" text-anchor="end">3.5</text>
</g>
<clipPath id="c3"><rect x="233.0" y="19.0" width="99.5" height="69.5"/></clipPath>
<g clip-path="url(#c3)" fill="none" stroke-width="2.0" stroke-linejoin="round">
<path d="M216.32,82.48 L216.71,82.47 L217.10,82.47 L217.49,82.46 L217.88,82.46 L218.28,82.45 L218.67,82.44 L219.06,82.43 L219.45,82.43 L219.84,82.42 L220.23,82.41 L220.63,82.40 L221.02,82.39 L221.41,82.37 L221.80,82.36 L222.19,82.35 L222.58,82.33 L222.98,82.31 L223.37,82.29 L223.76,82.27 L224.15,82.25 L224.54,82.23 L224.93,82.20 L225.33,82.17 L225.72,82.14 L226.11,82.10 L226.50,82.06 L226.89,82.02 L227.28,81.97 L227.68,81.92 L228.07,81.86 L228.46,81.80 L228.85,81.73 L229.24,81.66 L229.63,81.57 L230.03,81.48 L230.42,81.38 L230.81,81.26 L231.20,81.14 L231.59,81.00 L231.98,80.85 L232.38,80.68 L232.77,80.49 L233.16,80.28 L233.55,80.05 L233.94,79.79 L234.33,79.51 L234.73,79.20 L235.12,78.86 L235.25,78.73 L235.51,78.48 L235.84,78.13 L235.90,78.07 L236.29,77.61 L236.44,77.43 L236.68,77.11 L237.03,76.63 L237.08,76.56 L237.47,75.97 L237.62,75.71 L237.86,75.32 L238.22,74.67 L238.25,74.61 L238.64,73.85 L238.81,73.50 L239.03,73.02 L239.40,72.19 L239.43,72.14 L239.82,71.19 L239.99,70.75 L240.21,70.18 L240.59,69.16 L240.60,69.12 L240.99,67.99 L241.18,67.43 L241.38,66.81 L241.77,65.59 L241.78,65.58 L242.17,64.29 L242.36,63.63 L242.56,62.97 L242.95,61.61 L242.96,61.59 L243.34,60.22 L243.55,59.48 L243.73,58.81 L244.13,57.39 L244.14,57.33 L244.52,55.96 L244.74,55.16 L244.91,54.53 L245.30,53.10 L245.33,53.00 L245.69,51.70 L245.92,50.89 L246.08,50.32 L246.48,48.96 L246.51,48.83 L246.87,47.65 L247.11,46.86 L247.26,46.37 L247.65,45.14 L247.70,44.99 L248.04,43.95 L248.29,43.22 L248.43,42.82 L248.83,41.74 L248.89,41.59 L249.22,40.72 L249.48,40.08 L249.61,39.76 L250.00,38.86 L250.07,38.70 L250.39,38.01 L250.66,37.46 L250.78,37.22 L251.18,36.49 L251.26,36.35 L251.57,35.82 L251.85,35.38 L251.96,35.21 L252.35,34.65 L252.44,34.53 L252.74,34.14 L253.03,33.80 L253.13,33.69 L253.53,33.28 L253.63,33.18 L253.92,32.92 L254.22,32.68 L254.31,32.61 L254.70,32.35 L254.81,32.28 L255.09,32.12 L255.41,31.97 L255.48,31.94 L255.88,31.79 L256.00,31.75 L256.27,31.68 L256.59,31.61 L256.66,31.60 L257.05,31.56 L257.18,31.55 L257.44,31.55 L257.78,31.56 L257.83,31.56 L258.23,31.61 L258.37,31.63 L258.62,31.68 L258.96,31.76 L259.01,31.77 L259.40,31.88 L259.55,31.94 L259.79,32.02 L260.15,32.16 L260.18,32.18 L260.58,32.35 L260.74,32.43 L260.97,32.54 L261.33,32.74 L261.36,32.75 L261.75,32.97 L261.93,33.08 L262.14,33.21 L262.52,33.45 L262.53,33.46 L262.93,33.72 L263.11,33.84 L263.32,33.99 L263.70,34.27 L263.71,34.27 L264.10,34.56 L264.30,34.71 L264.49,34.86 L264.88,35.16 L264.89,35.17 L265.28,35.48 L265.48,35.64 L265.67,35.80 L266.06,36.12 L266.08,36.13 L266.45,36.45 L266.67,36.64 L266.84,36.79 L267.23,37.12 L267.26,37.15 L267.63,37.47 L267.85,37.67 L268.02,37.81 L268.41,38.16 L268.45,38.19 L268.80,38.51 L269.04,38.72 L269.19,38.86 L269.58,39.21 L269.63,39.26 L269.98,39.57 L270.22,39.80 L270.37,39.93 L270.76,40.28 L270.82,40.33 L271.15,40.64 L271.41,40.87 L271.54,41.00 L271.93,41.35 L272.00,41.41 L272.33,41.71 L272.60,41.95 L272.72,42.07 L273.11,42.42 L273.19,42.49 L273.50,42.78 L273.78,43.03 L273.89,43.13 L274.28,43.48 L274.37,43.56 L274.68,43.83 L274.97,44.09 L275.07,44.18 L275.46,44.53 L275.56,44.62 L275.85,44.87 L276.15,45.14 L276.24,45.22 L276.63,45.56 L276.74,45.66 L277.03,45.90 L277.34,46.17 L277.42,46.24 L277.81,46.58 L277.93,46.68 L278.20,46.91 L278.52,47.18 L278.59,47.24 L278.98,47.57 L279.12,47.68 L279.38,47.90 L279.71,48.17 L279.77,48.22 L280.16,48.54 L280.30,48.66 L280.55,48.86 L280.89,49.14 L280.94,49.18 L281.33,49.49 L281.49,49.61 L281.73,49.80 L282.08,50.08 L282.12,50.11 L282.51,50.42 L282.67,50.55 L282.90,50.72 L283.27,51.00 L283.29,51.02 L283.68,51.32 L283.86,51.45 L284.08,51.62 L284.45,51.90 L284.47,51.91 L284.86,52.20 L285.04,52.33 L285.25,52.49 L285.64,52.77 L285.64,52.77 L286.03,53.05 L286.23,53.19 L286.43,53.33 L286.82,53.61 L286.82,53.61 L287.21,53.88 L287.41,54.02 L287.60,54.15 L287.99,54.42 L288.01,54.43 L288.38,54.69 L288.60,54.83 L288.78,54.95 L289.17,55.21 L289.19,55.23 L289.56,55.47 L289.79,55.62 L289.95,55.72 L290.34,55.98 L290.38,56.00 L290.73,56.23 L290.97,56.38 L291.13,56.47 L291.52,56.72 L291.56,56.75 L291.91,56.96 L292.16,57.11 L292.30,57.20 L292.69,57.44 L292.75,57.47 L293.09,57.67 L293.34,57.83 L293.48,57.91 L293.87,58.14 L293.93,58.18 L294.26,58.36 L294.53,58.52 L294.65,58.59 L295.04,58.81 L295.12,58.86 L295.44,59.03 L295.71,59.19 L295.83,59.25 L296.22,59.47 L296.31,59.51 L296.61,59.68 L296.90,59.84 L297.00,59.89 L297.39,60.10 L297.49,60.15 L297.79,60.31 L298.08,60.46 L298.18,60.51 L298.57,60.71 L298.68,60.77 L298.96,60.91 L299.27,61.07 L299.35,61.11 L299.74,61.31 L299.86,61.37 L300.14,61.50 L300.45,61.66 L300.53,61.69 L300.92,61.88 L301.05,61.95 L301.31,62.07 L301.64,62.23 L301.70,62.26 L302.09,62.44 L302.23,62.51 L302.49,62.62 L302.83,62.78 L302.88,62.80 L303.27,62.98 L303.42,63.05 L303.66,63.16 L304.01,63.31 L304.05,63.33 L304.44,63.50 L304.60,63.57 L304.84,63.67 L305.20,63.83 L305.23,63.84 L305.62,64.01 L305.79,64.08 L306.01,64.17 L306.38,64.33 L306.40,64.34 L306.79,64.50 L306.98,64.57 L307.19,64.66 L307.57,64.81 L307.58,64.82 L307.97,64.97 L308.16,65.05 L308.36,65.13 L308.75,65.28 L308.75,65.28 L309.14,65.43 L309.35,65.51 L309.54,65.58 L309.93,65.73 L309.94,65.74 L310.53,65.96 L311.12,66.18 L311.72,66.39 L312.31,66.60 L312.90,66.81 L313.50,67.01 L314.09,67.21 L314.68,67.41 L315.27,67.61 L315.87,67.80 L316.46,67.99 L317.05,68.17 L317.64,68.36 L318.24,68.54 L318.83,68.71 L319.42,68.89 L320.02,69.06 L320.61,69.23 L321.20,69.40 L321.79,69.56 L322.39,69.72 L322.98,69.88 L323.57,70.04 L324.17,70.19 L324.76,70.34 L325.35,70.49 L325.94,70.64 L326.54,70.79 L327.13,70.93 L327.72,71.07 L328.31,71.21 L328.91,71.35 L329.50,71.48" stroke="#0000ff"/>
<path d="M216.32,82.51 L216.71,82.51 L217.10,82.51 L217.49,82.51 L217.88,82.51 L218.28,82.50 L218.67,82.50 L219.06,82.50 L219.45,82.49 L219.84,82.49 L220.23,82.49 L220.63,82.48 L221.02,82.48 L221.41,82.47 L221.80,82.47 L222.19,82.46 L222.58,82.46 L222.98,82.45 L223.37,82.44 L223.76,82.43 L224.15,82.43 L224.54,82.42 L224.93,82.41 L225.33,82.40 L225.72,82.39 L226.11,82.37 L226.50,82.36 L226.89,82.34 L227.28,82.33 L227.68,82.31 L228.07,82.29 L228.46,82.27 L228.85,82.25 L229.24,82.22 L229.63,82.20 L230.03,82.17 L230.42,82.14 L230.81,82.10 L231.20,82.06 L231.59,82.02 L231.98,81.97 L232.38,81.92 L232.77,81.86 L233.16,81.80 L233.55,81.73 L233.94,81.65 L234.33,81.57 L234.73,81.47 L235.12,81.37 L235.25,81.33 L235.51,81.26 L235.84,81.15 L235.90,81.13 L236.29,80.99 L236.44,80.94 L236.68,80.84 L237.03,80.69 L237.08,80.67 L237.47,80.48 L237.62,80.40 L237.86,80.27 L238.22,80.06 L238.25,80.04 L238.64,79.78 L238.81,79.66 L239.03,79.50 L239.40,79.21 L239.43,79.19 L239.82,78.84 L239.99,78.68 L240.21,78.46 L240.59,78.06 L240.60,78.05 L240.99,77.59 L241.18,77.35 L241.38,77.08 L241.77,76.54 L241.78,76.53 L242.17,75.93 L242.36,75.61 L242.56,75.28 L242.95,74.57 L242.96,74.56 L243.34,73.81 L243.55,73.37 L243.73,72.98 L244.13,72.09 L244.14,72.05 L244.52,71.14 L244.74,70.59 L244.91,70.13 L245.30,69.06 L245.33,68.98 L245.69,67.93 L245.92,67.25 L246.08,66.75 L246.48,65.51 L246.51,65.39 L246.87,64.23 L247.11,63.42 L247.26,62.90 L247.65,61.54 L247.70,61.37 L248.04,60.15 L248.29,59.26 L248.43,58.74 L248.83,57.32 L248.89,57.10 L249.22,55.88 L249.48,54.93 L249.61,54.45 L250.00,53.03 L250.07,52.78 L250.39,51.63 L250.66,50.67 L250.78,50.25 L251.18,48.90 L251.26,48.62 L251.57,47.58 L251.85,46.66 L251.96,46.31 L252.35,45.08 L252.44,44.80 L252.74,43.89 L253.03,43.05 L253.13,42.77 L253.53,41.69 L253.63,41.42 L253.92,40.67 L254.22,39.93 L254.31,39.71 L254.70,38.81 L254.81,38.57 L255.09,37.97 L255.41,37.34 L255.48,37.19 L255.88,36.46 L256.00,36.24 L256.27,35.79 L256.59,35.28 L256.66,35.18 L257.05,34.62 L257.18,34.44 L257.44,34.12 L257.78,33.73 L257.83,33.66 L258.23,33.26 L258.37,33.13 L258.62,32.91 L258.96,32.63 L259.01,32.60 L259.40,32.33 L259.55,32.24 L259.79,32.11 L260.15,31.94 L260.18,31.93 L260.58,31.78 L260.74,31.73 L260.97,31.67 L261.33,31.60 L261.36,31.60 L261.75,31.56 L261.93,31.55 L262.14,31.55 L262.52,31.56 L262.53,31.57 L262.93,31.61 L263.11,31.64 L263.32,31.68 L263.70,31.77 L263.71,31.77 L264.10,31.89 L264.30,31.96 L264.49,32.03 L264.88,32.19 L264.89,32.19 L265.28,32.36 L265.48,32.46 L265.67,32.55 L266.06,32.76 L266.08,32.77 L266.45,32.98 L266.67,33.11 L266.84,33.22 L267.23,33.46 L267.26,33.48 L267.63,33.72 L267.85,33.88 L268.02,33.99 L268.41,34.27 L268.45,34.30 L268.80,34.56 L269.04,34.74 L269.19,34.86 L269.58,35.16 L269.63,35.20 L269.98,35.47 L270.22,35.67 L270.37,35.79 L270.76,36.11 L270.82,36.16 L271.15,36.44 L271.41,36.66 L271.54,36.77 L271.93,37.10 L272.00,37.16 L272.33,37.44 L272.60,37.68 L272.72,37.79 L273.11,38.13 L273.19,38.20 L273.50,38.48 L273.78,38.73 L273.89,38.83 L274.28,39.18 L274.37,39.26 L274.68,39.53 L274.97,39.79 L275.07,39.89 L275.46,40.24 L275.56,40.33 L275.85,40.60 L276.15,40.87 L276.24,40.95 L276.63,41.30 L276.74,41.40 L277.03,41.66 L277.34,41.94 L277.42,42.01 L277.81,42.37 L277.93,42.47 L278.20,42.72 L278.52,43.01 L278.59,43.07 L278.98,43.42 L279.12,43.54 L279.38,43.77 L279.71,44.06 L279.77,44.11 L280.16,44.46 L280.30,44.58 L280.55,44.80 L280.89,45.10 L280.94,45.15 L281.33,45.49 L281.49,45.62 L281.73,45.83 L282.08,46.13 L282.12,46.16 L282.51,46.50 L282.67,46.63 L282.90,46.83 L283.27,47.13 L283.29,47.16 L283.68,47.49 L283.86,47.63 L284.08,47.81 L284.45,48.12 L284.47,48.13 L284.86,48.45 L285.04,48.60 L285.25,48.77 L285.64,49.08 L285.64,49.09 L286.03,49.40 L286.23,49.55 L286.43,49.71 L286.82,50.02 L286.82,50.02 L287.21,50.32 L287.41,50.48 L287.60,50.62 L287.99,50.92 L288.01,50.94 L288.38,51.22 L288.60,51.38 L288.78,51.52 L289.17,51.81 L289.19,51.83 L289.56,52.10 L289.79,52.26 L289.95,52.38 L290.34,52.67 L290.38,52.69 L290.73,52.95 L290.97,53.12 L291.13,53.23 L291.52,53.50 L291.56,53.53 L291.91,53.77 L292.16,53.95 L292.30,54.05 L292.69,54.31 L292.75,54.35 L293.09,54.58 L293.34,54.75 L293.48,54.84 L293.87,55.10 L293.93,55.14 L294.26,55.36 L294.53,55.53 L294.65,55.61 L295.04,55.86 L295.12,55.91 L295.44,56.11 L295.71,56.29 L295.83,56.36 L296.22,56.61 L296.31,56.66 L296.61,56.85 L296.90,57.02 L297.00,57.09 L297.39,57.32 L297.49,57.38 L297.79,57.56 L298.08,57.74 L298.18,57.79 L298.57,58.02 L298.68,58.08 L298.96,58.25 L299.27,58.42 L299.35,58.47 L299.74,58.69 L299.86,58.76 L300.14,58.91 L300.45,59.09 L300.53,59.13 L300.92,59.35 L301.05,59.42 L301.31,59.56 L301.64,59.74 L301.70,59.77 L302.09,59.98 L302.23,60.06 L302.49,60.19 L302.83,60.37 L302.88,60.39 L303.27,60.60 L303.42,60.67 L303.66,60.80 L304.01,60.97 L304.05,60.99 L304.44,61.19 L304.60,61.27 L304.84,61.38 L305.20,61.56 L305.23,61.58 L305.62,61.76 L305.79,61.85 L306.01,61.95 L306.38,62.13 L306.40,62.14 L306.79,62.32 L306.98,62.41 L307.19,62.50 L307.57,62.68 L307.58,62.68 L307.97,62.86 L308.16,62.95 L308.36,63.04 L308.75,63.21 L308.75,63.21 L309.14,63.38 L309.35,63.47 L309.54,63.56 L309.93,63.72 L309.94,63.73 L310.53,63.98 L311.12,64.23 L311.72,64.47 L312.31,64.71 L312.90,64.95 L313.50,65.18 L314.09,65.41 L314.68,65.64 L315.27,65.86 L315.87,66.08 L316.46,66.29 L317.05,66.50 L317.64,66.71 L318.24,66.91 L318.83,67.12 L319.42,67.31 L320.02,67.51 L320.61,67.70 L321.20,67.89 L321.79,68.08 L322.39,68.26 L322.98,68.44 L323.57,68.62 L324.17,68.79 L324.76,68.96 L325.35,69.13 L325.94,69.30 L326.54,69.47 L327.13,69.63 L327.72,69.79 L328.31,69.94 L328.91,70.10 L329.50,70.25" stroke="#ff0000" stroke-width="2.0" stroke-dasharray="4.15,2.55" stroke-dashoffset="1.91"/>
</g>
<path d="M235.89,88.5v-1.6M235.89,19.0v1.6M240.14,88.5v-1.6M240.14,19.0v1.6M244.40,88.5v-2.6M244.40,19.0v2.6M248.65,88.5v-1.6M248.65,19.0v1.6M252.91,88.5v-1.6M252.91,19.0v1.6M257.16,88.5v-1.6M257.16,19.0v1.6M261.42,88.5v-1.6M261.42,19.0v1.6M265.67,88.5v-2.6M265.67,19.0v2.6M269.93,88.5v-1.6M269.93,19.0v1.6M274.18,88.5v-1.6M274.18,19.0v1.6M278.44,88.5v-1.6M278.44,19.0v1.6M282.69,88.5v-1.6M282.69,19.0v1.6M286.95,88.5v-2.6M286.95,19.0v2.6M291.20,88.5v-1.6M291.20,19.0v1.6M295.46,88.5v-1.6M295.46,19.0v1.6M299.71,88.5v-1.6M299.71,19.0v1.6M303.97,88.5v-1.6M303.97,19.0v1.6M308.22,88.5v-2.6M308.22,19.0v2.6M312.48,88.5v-1.6M312.48,19.0v1.6M316.73,88.5v-1.6M316.73,19.0v1.6M320.99,88.5v-1.6M320.99,19.0v1.6M325.24,88.5v-1.6M325.24,19.0v1.6M329.50,88.5v-2.6M329.50,19.0v2.6M236.0,85.73h1.6M329.5,85.73h-1.6M236.0,82.55h2.6M329.5,82.55h-2.6M236.0,79.37h1.6M329.5,79.37h-1.6M236.0,76.19h1.6M329.5,76.19h-1.6M236.0,73.02h1.6M329.5,73.02h-1.6M236.0,69.84h1.6M329.5,69.84h-1.6M236.0,66.66h2.6M329.5,66.66h-2.6M236.0,63.48h1.6M329.5,63.48h-1.6M236.0,60.30h1.6M329.5,60.30h-1.6M236.0,57.13h1.6M329.5,57.13h-1.6M236.0,53.95h1.6M329.5,53.95h-1.6M236.0,50.77h2.6M329.5,50.77h-2.6M236.0,47.59h1.6M329.5,47.59h-1.6M236.0,44.41h1.6M329.5,44.41h-1.6M236.0,41.24h1.6M329.5,41.24h-1.6M236.0,38.06h1.6M329.5,38.06h-1.6M236.0,34.88h2.6M329.5,34.88h-2.6M236.0,31.70h1.6M329.5,31.70h-1.6M236.0,28.52h1.6M329.5,28.52h-1.6M236.0,25.35h1.6M329.5,25.35h-1.6M236.0,22.17h1.6M329.5,22.17h-1.6" stroke="#4a4a4a" stroke-width="1" fill="none" shape-rendering="crispEdges"/>
<rect x="236.0" y="19.0" width="93.5" height="69.5" fill="none" stroke="#666" stroke-width="1"/>
<g font-family="Liberation Sans, Arial, sans-serif" font-size="8.8" fill="#000" stroke="#000" stroke-width="0.15">
<text x="244.40" y="99.5" text-anchor="middle">6.0</text>
<text x="265.68" y="99.5" text-anchor="middle">6.5</text>
<text x="286.95" y="99.5" text-anchor="middle">7.0</text>
<text x="308.23" y="99.5" text-anchor="middle">7.5</text>
<text x="329.50" y="99.5" text-anchor="middle">8.0</text>
<text x="233.0" y="85.50" text-anchor="end">0.0</text>
<text x="233.0" y="69.61" text-anchor="end">0.5</text>
<text x="233.0" y="53.72" text-anchor="end">1.0</text>
<text x="233.0" y="37.83" text-anchor="end">1.5</text>
<text x="233.0" y="21.94" text-anchor="end">2.0</text>
</g>
<clipPath id="c4"><rect x="578.5" y="23.5" width="101.0" height="70.9"/></clipPath>
<g clip-path="url(#c4)" fill="none" stroke-width="2.0" stroke-linejoin="round">
<path d="M564.66,90.15 L565.06,90.15 L565.46,90.15 L565.85,90.15 L566.25,90.15 L566.65,90.14 L567.05,90.14 L567.45,90.14 L567.85,90.14 L568.25,90.14 L568.65,90.14 L569.05,90.14 L569.45,90.14 L569.84,90.14 L570.24,90.14 L570.64,90.14 L571.04,90.14 L571.44,90.13 L571.84,90.13 L572.24,90.13 L572.64,90.13 L573.04,90.13 L573.44,90.12 L573.83,90.12 L574.23,90.12 L574.63,90.12 L575.03,90.11 L575.43,90.11 L575.83,90.10 L576.23,90.09 L576.63,90.09 L577.03,90.08 L577.43,90.07 L577.83,90.06 L578.22,90.05 L578.62,90.03 L579.02,90.01 L579.42,89.99 L579.82,89.97 L580.22,89.94 L580.62,89.91 L580.70,89.90 L581.02,89.87 L581.31,89.84 L581.42,89.82 L581.82,89.77 L581.93,89.75 L582.21,89.70 L582.55,89.63 L582.61,89.62 L583.01,89.52 L583.17,89.48 L583.41,89.41 L583.78,89.28 L583.81,89.27 L584.21,89.10 L584.40,89.00 L584.61,88.89 L585.01,88.63 L585.02,88.63 L585.41,88.32 L585.64,88.11 L585.81,87.94 L586.21,87.48 L586.25,87.41 L586.60,86.91 L586.87,86.45 L587.00,86.21 L587.40,85.36 L587.49,85.15 L587.80,84.34 L588.11,83.41 L588.20,83.10 L588.60,81.63 L588.72,81.11 L589.00,79.89 L589.34,78.17 L589.40,77.87 L589.80,75.56 L589.96,74.53 L590.20,72.96 L590.58,70.21 L590.59,70.08 L590.99,66.98 L591.19,65.35 L591.39,63.70 L591.79,60.31 L591.81,60.14 L592.19,56.88 L592.43,54.84 L592.59,53.49 L592.99,50.20 L593.05,49.73 L593.39,47.07 L593.66,45.02 L593.79,44.15 L594.19,41.48 L594.28,40.88 L594.58,39.08 L594.90,37.38 L594.98,36.96 L595.38,35.12 L595.52,34.56 L595.78,33.55 L596.13,32.39 L596.18,32.25 L596.58,31.20 L596.75,30.82 L596.98,30.38 L597.37,29.78 L597.38,29.77 L597.78,29.36 L597.99,29.21 L598.18,29.12 L598.58,29.04 L598.60,29.04 L598.97,29.10 L599.22,29.20 L599.37,29.28 L599.77,29.57 L599.84,29.63 L600.17,29.96 L600.46,30.29 L600.57,30.43 L600.97,30.97 L601.08,31.13 L601.37,31.58 L601.69,32.11 L601.77,32.24 L602.17,32.94 L602.31,33.20 L602.57,33.68 L602.93,34.37 L602.96,34.45 L603.36,35.24 L603.55,35.61 L603.76,36.05 L604.16,36.88 L604.16,36.89 L604.56,37.72 L604.78,38.19 L604.96,38.57 L605.36,39.43 L605.40,39.51 L605.76,40.28 L606.02,40.83 L606.16,41.14 L606.56,41.99 L606.63,42.15 L606.95,42.84 L607.25,43.46 L607.35,43.68 L607.75,44.52 L607.87,44.75 L608.15,45.34 L608.49,46.03 L608.55,46.16 L608.95,46.97 L609.10,47.28 L609.35,47.77 L609.72,48.50 L609.75,48.56 L610.15,49.33 L610.34,49.70 L610.55,50.09 L610.95,50.85 L610.96,50.86 L611.34,51.58 L611.57,52.00 L611.74,52.31 L612.14,53.02 L612.19,53.11 L612.54,53.72 L612.81,54.18 L612.94,54.41 L613.34,55.08 L613.43,55.22 L613.74,55.74 L614.04,56.24 L614.14,56.39 L614.54,57.02 L614.66,57.22 L614.94,57.65 L615.28,58.17 L615.33,58.26 L615.73,58.85 L615.90,59.09 L616.13,59.44 L616.51,59.98 L616.53,60.01 L616.93,60.57 L617.13,60.85 L617.33,61.12 L617.73,61.66 L617.75,61.68 L618.13,62.18 L618.37,62.49 L618.53,62.70 L618.93,63.20 L618.98,63.28 L619.33,63.70 L619.60,64.03 L619.72,64.18 L620.12,64.66 L620.22,64.77 L620.52,65.12 L620.84,65.48 L620.92,65.57 L621.32,66.02 L621.45,66.16 L621.72,66.45 L622.07,66.82 L622.12,66.87 L622.52,67.29 L622.69,67.47 L622.92,67.70 L623.31,68.09 L623.32,68.10 L623.71,68.49 L623.92,68.69 L624.11,68.87 L624.51,69.24 L624.54,69.27 L624.91,69.61 L625.16,69.83 L625.31,69.97 L625.71,70.32 L625.78,70.37 L626.11,70.66 L626.39,70.90 L626.51,70.99 L626.91,71.32 L627.01,71.41 L627.31,71.65 L627.63,71.90 L627.70,71.96 L628.10,72.27 L628.25,72.38 L628.50,72.57 L628.86,72.84 L628.90,72.87 L629.30,73.16 L629.48,73.29 L629.70,73.44 L630.10,73.72 L630.10,73.72 L630.50,73.99 L630.72,74.14 L630.90,74.26 L631.30,74.52 L631.33,74.55 L631.70,74.78 L631.95,74.94 L632.09,75.03 L632.49,75.28 L632.57,75.32 L632.89,75.52 L633.19,75.69 L633.29,75.76 L633.69,75.99 L633.80,76.05 L634.09,76.22 L634.42,76.40 L634.49,76.44 L634.89,76.66 L635.04,76.74 L635.29,76.87 L635.66,77.07 L635.69,77.08 L636.08,77.29 L636.27,77.38 L636.48,77.49 L636.88,77.69 L636.89,77.69 L637.28,77.88 L637.51,77.99 L637.68,78.07 L638.08,78.26 L638.13,78.28 L638.48,78.44 L638.74,78.56 L638.88,78.62 L639.28,78.80 L639.36,78.83 L639.68,78.97 L639.98,79.10 L640.08,79.14 L640.47,79.30 L640.60,79.36 L640.87,79.47 L641.21,79.61 L641.27,79.63 L641.67,79.79 L641.83,79.85 L642.07,79.94 L642.45,80.08 L642.47,80.09 L642.87,80.24 L643.07,80.31 L643.27,80.39 L643.67,80.53 L643.68,80.54 L644.07,80.67 L644.30,80.75 L644.46,80.81 L644.86,80.94 L644.92,80.96 L645.26,81.08 L645.54,81.17 L645.66,81.21 L646.06,81.34 L646.15,81.37 L646.46,81.46 L646.77,81.56 L646.86,81.59 L647.26,81.71 L647.39,81.75 L647.66,81.83 L648.01,81.93 L648.06,81.95 L648.45,82.06 L648.63,82.11 L648.85,82.17 L649.24,82.28 L649.25,82.29 L649.65,82.40 L649.86,82.45 L650.05,82.50 L650.45,82.61 L650.48,82.62 L650.85,82.71 L651.10,82.78 L651.25,82.82 L651.65,82.92 L651.71,82.93 L652.05,83.01 L652.33,83.08 L652.45,83.11 L652.84,83.21 L652.95,83.23 L653.24,83.30 L653.57,83.38 L653.64,83.39 L654.04,83.48 L654.18,83.52 L654.44,83.57 L654.80,83.65 L654.84,83.66 L655.24,83.75 L655.42,83.78 L655.64,83.83 L656.04,83.91 L656.04,83.91 L656.44,84.00 L656.65,84.04 L656.83,84.08 L657.23,84.16 L657.27,84.16 L657.63,84.24 L657.89,84.28 L658.03,84.31 L658.43,84.39 L658.51,84.40 L658.83,84.46 L659.12,84.52 L659.23,84.54 L659.63,84.61 L659.74,84.63 L660.03,84.68 L660.36,84.74 L660.98,84.84 L661.59,84.95 L662.21,85.05 L662.83,85.15 L663.45,85.24 L664.06,85.34 L664.68,85.43 L665.30,85.52 L665.92,85.60 L666.53,85.69 L667.15,85.77 L667.77,85.85 L668.39,85.93 L669.00,86.01 L669.62,86.09 L670.24,86.16 L670.86,86.24 L671.47,86.31 L672.09,86.38 L672.71,86.44 L673.33,86.51 L673.94,86.57 L674.56,86.64 L675.18,86.70 L675.80,86.76 L676.41,86.82 L677.03,86.88 L677.65,86.94 L678.27,86.99 L678.88,87.05" stroke="#0000ff"/>
<path d="M564.66,90.15 L565.06,90.15 L565.46,90.14 L565.85,90.14 L566.25,90.14 L566.65,90.14 L567.05,90.14 L567.45,90.14 L567.85,90.14 L568.25,90.14 L568.65,90.14 L569.05,90.14 L569.45,90.14 L569.84,90.14 L570.24,90.13 L570.64,90.13 L571.04,90.13 L571.44,90.13 L571.84,90.13 L572.24,90.12 L572.64,90.12 L573.04,90.12 L573.44,90.11 L573.83,90.11 L574.23,90.10 L574.63,90.10 L575.03,90.09 L575.43,90.08 L575.83,90.07 L576.23,90.06 L576.63,90.05 L577.03,90.03 L577.43,90.02 L577.83,90.00 L578.22,89.97 L578.62,89.95 L579.02,89.92 L579.42,89.88 L579.82,89.83 L580.22,89.78 L580.62,89.71 L580.70,89.70 L581.02,89.64 L581.31,89.57 L581.42,89.54 L581.82,89.43 L581.93,89.40 L582.21,89.30 L582.55,89.16 L582.61,89.13 L583.01,88.93 L583.17,88.84 L583.41,88.69 L583.78,88.41 L583.81,88.39 L584.21,88.02 L584.40,87.82 L584.61,87.58 L585.01,87.03 L585.02,87.01 L585.41,86.36 L585.64,85.91 L585.81,85.54 L586.21,84.55 L586.25,84.42 L586.60,83.36 L586.87,82.43 L587.00,81.94 L587.40,80.26 L587.49,79.85 L587.80,78.29 L588.11,76.59 L588.20,76.04 L588.60,73.49 L588.72,72.64 L589.00,70.67 L589.34,68.05 L589.40,67.61 L589.80,64.36 L589.96,62.99 L590.20,60.99 L590.58,57.71 L590.59,57.56 L590.99,54.15 L591.19,52.47 L591.39,50.84 L591.79,47.67 L591.81,47.52 L592.19,44.71 L592.43,43.05 L592.59,41.99 L592.99,39.53 L593.05,39.20 L593.39,37.36 L593.66,36.01 L593.79,35.46 L594.19,33.84 L594.28,33.49 L594.58,32.49 L594.90,31.60 L594.98,31.39 L595.38,30.52 L595.52,30.28 L595.78,29.87 L596.13,29.47 L596.18,29.42 L596.58,29.15 L596.75,29.09 L596.98,29.04 L597.37,29.07 L597.38,29.07 L597.78,29.23 L597.99,29.37 L598.18,29.51 L598.58,29.88 L598.60,29.91 L598.97,30.33 L599.22,30.65 L599.37,30.86 L599.77,31.46 L599.84,31.56 L600.17,32.10 L600.46,32.60 L600.57,32.80 L600.97,33.53 L601.08,33.73 L601.37,34.29 L601.69,34.93 L601.77,35.08 L602.17,35.89 L602.31,36.19 L602.57,36.72 L602.93,37.48 L602.96,37.56 L603.36,38.40 L603.55,38.79 L603.76,39.26 L604.16,40.11 L604.16,40.11 L604.56,40.97 L604.78,41.44 L604.96,41.82 L605.36,42.67 L605.40,42.75 L605.76,43.51 L606.02,44.05 L606.16,44.35 L606.56,45.18 L606.63,45.34 L606.95,46.00 L607.25,46.60 L607.35,46.81 L607.75,47.61 L607.87,47.84 L608.15,48.40 L608.49,49.05 L608.55,49.18 L608.95,49.94 L609.10,50.23 L609.35,50.70 L609.72,51.39 L609.75,51.44 L610.15,52.17 L610.34,52.51 L610.55,52.88 L610.95,53.58 L610.96,53.60 L611.34,54.27 L611.57,54.66 L611.74,54.95 L612.14,55.61 L612.19,55.69 L612.54,56.26 L612.81,56.69 L612.94,56.90 L613.34,57.52 L613.43,57.66 L613.74,58.14 L614.04,58.59 L614.14,58.74 L614.54,59.32 L614.66,59.50 L614.94,59.90 L615.28,60.38 L615.33,60.46 L615.73,61.01 L615.90,61.23 L616.13,61.55 L616.51,62.06 L616.53,62.08 L616.93,62.60 L617.13,62.85 L617.33,63.11 L617.73,63.60 L617.75,63.63 L618.13,64.09 L618.37,64.37 L618.53,64.56 L618.93,65.03 L618.98,65.09 L619.33,65.48 L619.60,65.79 L619.72,65.93 L620.12,66.36 L620.22,66.47 L620.52,66.79 L620.84,67.12 L620.92,67.21 L621.32,67.62 L621.45,67.75 L621.72,68.02 L622.07,68.36 L622.12,68.41 L622.52,68.79 L622.69,68.95 L622.92,69.17 L623.31,69.53 L623.32,69.54 L623.71,69.89 L623.92,70.08 L624.11,70.25 L624.51,70.59 L624.54,70.62 L624.91,70.93 L625.16,71.13 L625.31,71.26 L625.71,71.58 L625.78,71.64 L626.11,71.90 L626.39,72.12 L626.51,72.21 L626.91,72.51 L627.01,72.59 L627.31,72.81 L627.63,73.05 L627.70,73.10 L628.10,73.39 L628.25,73.49 L628.50,73.67 L628.86,73.92 L628.90,73.94 L629.30,74.21 L629.48,74.33 L629.70,74.47 L630.10,74.73 L630.10,74.73 L630.50,74.98 L630.72,75.12 L630.90,75.23 L631.30,75.47 L631.33,75.49 L631.70,75.71 L631.95,75.86 L632.09,75.94 L632.49,76.17 L632.57,76.21 L632.89,76.39 L633.19,76.56 L633.29,76.61 L633.69,76.83 L633.80,76.89 L634.09,77.04 L634.42,77.21 L634.49,77.25 L634.89,77.45 L635.04,77.52 L635.29,77.65 L635.66,77.83 L635.69,77.84 L636.08,78.03 L636.27,78.12 L636.48,78.22 L636.88,78.40 L636.89,78.41 L637.28,78.58 L637.51,78.69 L637.68,78.76 L638.08,78.93 L638.13,78.95 L638.48,79.10 L638.74,79.22 L638.88,79.27 L639.28,79.44 L639.36,79.47 L639.68,79.60 L639.98,79.72 L640.08,79.75 L640.47,79.91 L640.60,79.96 L640.87,80.06 L641.21,80.19 L641.27,80.21 L641.67,80.36 L641.83,80.42 L642.07,80.50 L642.45,80.64 L642.47,80.64 L642.87,80.78 L643.07,80.85 L643.27,80.92 L643.67,81.05 L643.68,81.06 L644.07,81.18 L644.30,81.26 L644.46,81.31 L644.86,81.44 L644.92,81.46 L645.26,81.56 L645.54,81.65 L645.66,81.68 L646.06,81.80 L646.15,81.83 L646.46,81.92 L646.77,82.01 L646.86,82.04 L647.26,82.15 L647.39,82.19 L647.66,82.26 L648.01,82.36 L648.06,82.37 L648.45,82.48 L648.63,82.53 L648.85,82.59 L649.24,82.69 L649.25,82.69 L649.65,82.79 L649.86,82.85 L650.05,82.90 L650.45,82.99 L650.48,83.00 L650.85,83.09 L651.10,83.15 L651.25,83.19 L651.65,83.28 L651.71,83.30 L652.05,83.37 L652.33,83.44 L652.45,83.47 L652.84,83.56 L652.95,83.58 L653.24,83.64 L653.57,83.71 L653.64,83.73 L654.04,83.81 L654.18,83.84 L654.44,83.90 L654.80,83.97 L654.84,83.98 L655.24,84.06 L655.42,84.10 L655.64,84.14 L656.04,84.22 L656.04,84.22 L656.44,84.30 L656.65,84.34 L656.83,84.37 L657.23,84.45 L657.27,84.45 L657.63,84.52 L657.89,84.57 L658.03,84.59 L658.43,84.66 L658.51,84.68 L658.83,84.73 L659.12,84.79 L659.23,84.80 L659.63,84.87 L659.74,84.89 L660.03,84.94 L660.36,84.99 L660.98,85.09 L661.59,85.19 L662.21,85.29 L662.83,85.38 L663.45,85.47 L664.06,85.56 L664.68,85.64 L665.30,85.73 L665.92,85.81 L666.53,85.89 L667.15,85.97 L667.77,86.05 L668.39,86.12 L669.00,86.20 L669.62,86.27 L670.24,86.34 L670.86,86.41 L671.47,86.47 L672.09,86.54 L672.71,86.60 L673.33,86.67 L673.94,86.73 L674.56,86.79 L675.18,86.85 L675.80,86.90 L676.41,86.96 L677.03,87.02 L677.65,87.07 L678.27,87.12 L678.88,87.17" stroke="#ff0000" stroke-width="2.0" stroke-dasharray="3.8,3.84" stroke-dashoffset="2.51"/>
</g>
<path d="M581.13,94.4v-1.6M581.13,23.5v1.6M585.46,94.4v-1.6M585.46,23.5v1.6M589.80,94.4v-2.6M589.80,23.5v2.6M594.13,94.4v-1.6M594.13,23.5v1.6M598.47,94.4v-1.6M598.47,23.5v1.6M602.80,94.4v-1.6M602.80,23.5v1.6M607.14,94.4v-1.6M607.14,23.5v1.6M611.48,94.4v-2.6M611.48,23.5v2.6M615.81,94.4v-1.6M615.81,23.5v1.6M620.14,94.4v-1.6M620.14,23.5v1.6M624.48,94.4v-1.6M624.48,23.5v1.6M628.81,94.4v-1.6M628.81,23.5v1.6M633.15,94.4v-2.6M633.15,23.5v2.6M637.49,94.4v-1.6M637.49,23.5v1.6M641.82,94.4v-1.6M641.82,23.5v1.6M646.15,94.4v-1.6M646.15,23.5v1.6M650.49,94.4v-1.6M650.49,23.5v1.6M654.83,94.4v-2.6M654.83,23.5v2.6M659.16,94.4v-1.6M659.16,23.5v1.6M663.50,94.4v-1.6M663.50,23.5v1.6M667.83,94.4v-1.6M667.83,23.5v1.6M672.17,94.4v-1.6M672.17,23.5v1.6M676.50,94.4v-2.6M676.50,23.5v2.6M581.5,92.05h1.6M676.5,92.05h-1.6M581.5,90.15h2.6M676.5,90.15h-2.6M581.5,88.25h1.6M676.5,88.25h-1.6M581.5,86.34h1.6M676.5,86.34h-1.6M581.5,84.44h1.6M676.5,84.44h-1.6M581.5,82.53h1.6M676.5,82.53h-1.6M581.5,80.63h2.6M676.5,80.63h-2.6M581.5,78.73h1.6M676.5,78.73h-1.6M581.5,76.82h1.6M676.5,76.82h-1.6M581.5,74.92h1.6M676.5,74.92h-1.6M581.5,73.01h1.6M676.5,73.01h-1.6M581.5,71.11h2.6M676.5,71.11h-2.6M581.5,69.21h1.6M676.5,69.21h-1.6M581.5,67.30h1.6M676.5,67.30h-1.6M581.5,65.40h1.6M676.5,65.40h-1.6M581.5,63.49h1.6M676.5,63.49h-1.6M581.5,61.59h2.6M676.5,61.59h-2.6M581.5,59.69h1.6M676.5,59.69h-1.6M581.5,57.78h1.6M676.5,57.78h-1.6M581.5,55.88h1.6M676.5,55.88h-1.6M581.5,53.97h1.6M676.5,53.97h-1.6M581.5,52.07h2.6M676.5,52.07h-2.6M581.5,50.17h1.6M676.5,50.17h-1.6M581.5,48.26h1.6M676.5,48.26h-1.6M581.5,46.36h1.6M676.5,46.36h-1.6M581.5,44.45h1.6M676.5,44.45h-1.6M581.5,42.55h2.6M676.5,42.55h-2.6M581.5,40.65h1.6M676.5,40.65h-1.6M581.5,38.74h1.6M676.5,38.74h-1.6M581.5,36.84h1.6M676.5,36.84h-1.6M581.5,34.93h1.6M676.5,34.93h-1.6M581.5,33.03h2.6M676.5,33.03h-2.6M581.5,31.13h1.6M676.5,31.13h-1.6M581.5,29.22h1.6M676.5,29.22h-1.6M581.5,27.32h1.6M676.5,27.32h-1.6M581.5,25.41h1.6M676.5,25.41h-1.6M581.5,23.51h2.6M676.5,23.51h-2.6" stroke="#4a4a4a" stroke-width="1" fill="none" shape-rendering="crispEdges"/>
<rect x="581.5" y="23.5" width="95.0" height="70.9" fill="none" stroke="#666" stroke-width="1"/>
<g font-family="Liberation Sans, Arial, sans-serif" font-size="8.8" fill="#000" stroke="#000" stroke-width="0.15">
<text x="589.80" y="105.3" text-anchor="middle">3.0</text>
<text x="611.47" y="105.3" text-anchor="middle">3.5</text>
<text x="633.15" y="105.3" text-anchor="middle">4.0</text>
<text x="654.82" y="105.3" text-anchor="middle">4.5</text>
<text x="676.50" y="105.3" text-anchor="middle">5.0</text>
<text x="578.4" y="93.10" text-anchor="end">0.0</text>
<text x="578.4" y="83.58" text-anchor="end">0.5</text>
<text x="578.4" y="74.06" text-anchor="end">1.0</text>
<text x="578.4" y="64.54" text-anchor="end">1.5</text>
<text x="578.4" y="55.02" text-anchor="end">2.0</text>
<text x="578.4" y="45.50" text-anchor="end">2.5</text>
<text x="578.4" y="35.98" text-anchor="end">3.0</text>
<text x="578.4" y="26.46" text-anchor="end">3.5</text>
</g>
<g fill="#000"><text x="171.60" y="238.2" font-family="Liberation Serif, Times New Roman, serif" font-style="italic" font-size="15.5">r</text><text x="180.85" y="237.90" font-family="Liberation Sans, Arial, sans-serif" font-size="14.9">/</text><text x="188.40" y="238.2" font-family="Liberation Serif, Times New Roman, serif" font-style="italic" font-size="15.5">M</text></g>
<g fill="#000"><text x="517.80" y="238.2" font-family="Liberation Serif, Times New Roman, serif" font-style="italic" font-size="15.5">r</text><text x="527.05" y="237.90" font-family="Liberation Sans, Arial, sans-serif" font-size="14.9">/</text><text x="534.60" y="238.2" font-family="Liberation Serif, Times New Roman, serif" font-style="italic" font-size="15.5">M</text></g>
<text transform="translate(10.1,113.2) rotate(-90)" font-family="Liberation Serif, Times New Roman, serif" font-size="16.4" fill="#000"><tspan font-style="italic">I</tspan><tspan font-family="Liberation Sans, Arial, sans-serif" font-size="10.9" dy="2.3" dx="-0.6">em</tspan></text>
<text transform="translate(356.9,113.3) rotate(-90)" font-family="Liberation Serif, Times New Roman, serif" font-size="16.4" fill="#000"><tspan font-style="italic">I</tspan><tspan font-family="Liberation Sans, Arial, sans-serif" font-size="10.9" dy="2.3" dx="-0.6">em</tspan></text>
<g font-family="Liberation Serif, Times New Roman, serif" font-size="17.4" fill="#1a1a1a"><text x="103.2" y="270.8" font-size="20.3">(</text><text x="109.4" y="270.3" textLength="8.6" lengthAdjust="spacingAndGlyphs">a</text><text x="118.0" y="270.8" font-size="20.3">)</text><text x="130.8" y="270.3" textLength="42.8" lengthAdjust="spacingAndGlyphs">ISCO</text><text x="179.7" y="270.3" textLength="45.4" lengthAdjust="spacingAndGlyphs">model</text></g>
<g font-family="Liberation Serif, Times New Roman, serif" font-size="17.4" fill="#1a1a1a"><text x="459.3" y="270.8" font-size="20.3">(</text><text x="465.0" y="270.3" textLength="9.3" lengthAdjust="spacingAndGlyphs">b</text><text x="474.8" y="270.8" font-size="20.3">)</text><text x="488.5" y="270.3" textLength="20.4" lengthAdjust="spacingAndGlyphs">PS</text><text x="515.8" y="270.3" textLength="46.1" lengthAdjust="spacingAndGlyphs">model</text></g>
</svg>
</body></html>
